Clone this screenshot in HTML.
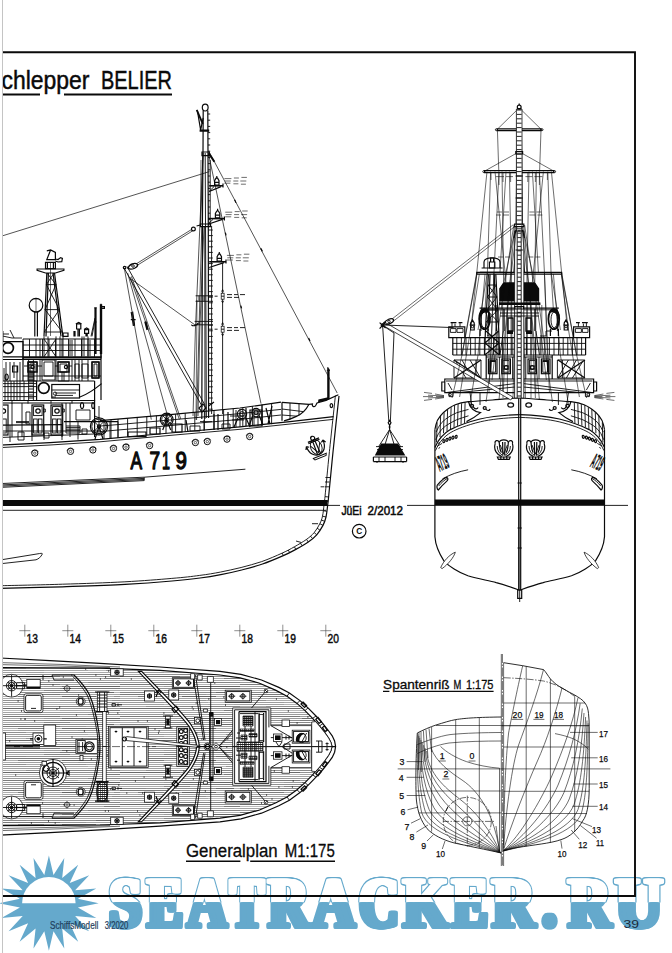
<!DOCTYPE html>
<html lang="de"><head><meta charset="utf-8"><title>Schlepper BELIER - Generalplan</title>
<style>
html,body{margin:0;padding:0;background:#fff;}
body{width:672px;height:953px;overflow:hidden;font-family:"Liberation Sans",sans-serif;}
svg{display:block;}
.t{font-family:"Liberation Sans",sans-serif;fill:#0a0a0a;}
.l{fill:none;stroke:#0a0a0a;stroke-width:.9;}
.m{fill:none;stroke:#0a0a0a;stroke-width:1.2;}
.h{fill:none;stroke:#0a0a0a;stroke-width:.6;}
.k{fill:#0a0a0a;stroke:none;}
#bodyplan .l{stroke-width:.6;}
#bodyplan .m{stroke-width:.85;}
.w{fill:#fff;stroke:#0a0a0a;stroke-width:.75;}
</style></head><body>
<svg width="672" height="953" viewBox="0 0 672 953">
<!-- watermark -->
<defs>
<clipPath id="cTop"><rect x="0" y="860" width="672" height="42.6"/></clipPath>
<clipPath id="cBot"><rect x="0" y="902.6" width="672" height="51"/></clipPath>
</defs>
<g fill="#65a9cc">
<polygon points="98.7,903.2 77.9,907.6 96.3,917.9 75.1,916.1 89.2,931.2 69.7,923.3 78.2,941.7 62.2,928.5 64.3,948.5 53.5,931.3 48.9,950.8 44.3,931.3 33.5,948.5 35.6,928.5 19.6,941.7 28.1,923.3 8.6,931.2 22.7,916.1 1.5,917.9 19.9,907.6 -0.9,903.2 19.9,898.8 1.5,888.5 22.7,890.3 8.6,875.2 28.1,883.1 19.6,864.7 35.6,877.9 33.5,857.9 44.3,875.1 48.9,855.6 53.5,875.1 64.3,857.9 62.2,877.9 78.2,864.7 69.7,883.1 89.2,875.2 75.1,890.3 96.3,888.5 77.9,898.8"/>
<path d="M22.1 903.2 A26.75 26.2 0 0 1 75.6 903.2 Z" fill="#fff"/>
</g>
<defs><g id="wmt">
<text x="109.6" y="926.5" textLength="31.8" lengthAdjust="spacingAndGlyphs">S</text>
<text x="147.6" y="926.5" textLength="34.8" lengthAdjust="spacingAndGlyphs">E</text>
<text x="187.6" y="926.5" textLength="38.8" lengthAdjust="spacingAndGlyphs">A</text>
<text x="230.6" y="926.5" textLength="32.8" lengthAdjust="spacingAndGlyphs">T</text>
<text x="268.6" y="926.5" textLength="39.8" lengthAdjust="spacingAndGlyphs">R</text>
<text x="312.6" y="926.5" textLength="41.8" lengthAdjust="spacingAndGlyphs">A</text>
<text x="359.6" y="926.5" textLength="38.8" lengthAdjust="spacingAndGlyphs">C</text>
<text x="403.6" y="926.5" textLength="43.8" lengthAdjust="spacingAndGlyphs">K</text>
<text x="452.6" y="926.5" textLength="34.8" lengthAdjust="spacingAndGlyphs">E</text>
<text x="492.6" y="926.5" textLength="41.8" lengthAdjust="spacingAndGlyphs">R</text>
<text x="568.6" y="926.5" textLength="41.8" lengthAdjust="spacingAndGlyphs">R</text>
<text x="615.6" y="926.5" textLength="46.8" lengthAdjust="spacingAndGlyphs">U</text>
<text x="542.5" y="926.5" font-size="78" textLength="14" lengthAdjust="spacingAndGlyphs">.</text>
</g></defs>
<g font-family="'Liberation Serif',serif" font-weight="bold" font-size="71.8" stroke-linejoin="round">
<g clip-path="url(#cTop)" fill="#65a9cc" stroke="#65a9cc" stroke-width="5.3"><use href="#wmt" x="-2.2"/><use href="#wmt" x="-1.1"/><use href="#wmt" x="0.0"/><use href="#wmt" x="1.1"/><use href="#wmt" x="2.2"/></g>
<g clip-path="url(#cTop)" fill="#fff" stroke="#fff" stroke-width="2.5"><use href="#wmt" x="-2.2"/><use href="#wmt" x="-1.1"/><use href="#wmt" x="0.0"/><use href="#wmt" x="1.1"/><use href="#wmt" x="2.2"/></g>
<g clip-path="url(#cBot)" fill="#65a9cc" stroke="#65a9cc" stroke-width="4.0"><use href="#wmt" x="-2.2"/><use href="#wmt" x="-1.1"/><use href="#wmt" x="0.0"/><use href="#wmt" x="1.1"/><use href="#wmt" x="2.2"/></g>
</g>

<!-- frame -->
<path d="M2 52.2 H635 V896 H2" fill="none" stroke="#0a0a0a" stroke-width="1.9"/>
<!-- title -->
<text class="t" x="-13.8" y="89" font-size="25" textLength="103.3" lengthAdjust="spacingAndGlyphs" stroke="#0a0a0a" stroke-width=".45">Schlepper</text>
<text class="t" x="101" y="89" font-size="25" textLength="71" lengthAdjust="spacingAndGlyphs" stroke="#0a0a0a" stroke-width=".45">BELIER</text>
<path d="M2.5 94.5 H40 M64 94.5 H172" stroke="#0a0a0a" stroke-width="2" fill="none"/>
<rect x="0" y="60" width="2" height="40" fill="#fff"/>
<!-- footer -->
<text x="50" y="929" font-size="10.3" fill="#1f3d5a" stroke="#1f3d5a" stroke-width=".2" font-family="'Liberation Sans',sans-serif" textLength="48.3" lengthAdjust="spacingAndGlyphs">SchiffsModell</text>
<text x="104.8" y="929" font-size="10.3" fill="#1f3d5a" stroke="#1f3d5a" stroke-width=".2" font-family="'Liberation Sans',sans-serif" textLength="23.5" lengthAdjust="spacingAndGlyphs">3/2020</text>
<text x="623.5" y="928.3" font-size="11" fill="#1a2a3a" font-family="'Liberation Sans',sans-serif" textLength="15.5" lengthAdjust="spacingAndGlyphs">39</text>

<!-- ===== SIDE VIEW: hull ===== -->
<g id="side-hull">
<!-- waterline band -->
<path class="k" d="M0 500 H327.8 L327 506 H0 Z"/>
<line class="l" x1="0" y1="510.3" x2="326" y2="510.3"/>
<path class="l" d="M327 505.4 H340 M407 505.4 H628"/>
<!-- stem outer / inner -->
<path class="m" d="M339.0 396.0 C338.0 405.3 334.7 435.2 333.0 452.0 C331.3 468.8 329.5 488.1 328.6 497.0 C327.7 505.9 328.0 502.3 327.6 505.6 C327.2 508.9 326.8 513.7 326.0 517.0 C325.2 520.3 324.6 522.4 323.0 525.4 C321.4 528.4 319.1 532.0 316.7 534.8 C314.2 537.6 311.8 539.6 308.3 542.0 C304.8 544.4 300.0 547.1 295.8 549.4 C291.6 551.7 288.9 553.2 283.3 555.6 C277.8 558.0 269.4 561.6 262.5 564.0 C255.6 566.4 248.6 568.2 241.7 570.0 C234.8 571.8 227.8 573.3 220.8 574.6 C213.9 575.9 208.1 576.9 200.0 578.0 C191.9 579.1 184.5 579.9 172.0 581.0 C159.5 582.1 143.2 583.4 125.0 584.4 C106.8 585.4 83.3 586.1 62.5 586.8 C41.7 587.4 10.4 588.0 0.0 588.3"/>
<path class="l" d="M335.4 395.6 C334.4 405.0 331.2 434.8 329.4 451.6 C327.7 468.5 325.9 487.7 325.0 496.6 C324.1 505.6 324.5 501.9 324.0 505.1 C323.6 508.4 323.2 513.1 322.5 516.2 C321.8 519.3 321.2 521.0 319.8 523.7 C318.4 526.5 316.4 529.9 314.2 532.6 C311.9 535.2 309.8 537.0 306.5 539.4 C303.2 541.8 298.4 544.5 294.4 546.8 C290.3 549.1 287.7 550.6 282.2 553.1 C276.7 555.6 268.5 559.2 261.7 561.6 C254.8 563.9 248.0 565.7 241.1 567.5 C234.2 569.2 227.2 570.7 220.3 572.1 C213.4 573.4 207.8 574.4 199.7 575.4 C191.6 576.5 184.2 577.4 171.8 578.4 C159.3 579.5 143.1 580.8 124.9 581.8 C106.6 582.8 83.2 583.6 62.4 584.2 C41.6 584.9 10.4 585.5 -0.1 585.7"/>
<!-- stem ticks -->
<path class="l" d="M328.6 497.0 L325.0 496.6 M328.1 501.3 L324.5 500.9 M327.6 505.6 L324.0 505.1 M326.8 511.3 L323.3 510.7 M326.0 517.0 L322.5 516.2 M324.5 521.2 L321.2 520.0 M323.0 525.4 L319.8 523.7 M319.9 530.1 L317.0 528.1 M316.7 534.8 L314.2 532.6 M312.5 538.4 L310.3 536.0 M308.3 542.0 L306.5 539.4 M302.1 545.7 L300.4 543.1 M295.8 549.4 L294.4 546.8 M289.6 552.5 L288.3 550.0 M283.3 555.6 L282.2 553.1  M324.6 486.8 H329.2 M325 482 H329.6 M325.4 477.5 H330 M320.6 486.8 H324 M312 523.7 H318 M296 541 L301 542.4"/>
<!-- rubbing strake with hatching -->
<path class="l" d="M0 483.6 L144.2 477.2 L245.4 469.2 M144.2 477.2 V480.6 L0 487.4 M0 485 L144.2 478.4 M0 486.2 L144.2 479.5"/>
<!-- bilge keel -->
<path class="l" d="M0 560 L38 553.8 C41 553.3 42.8 553 42.2 554.2 C41 556.8 38.6 559 36 559.8 L0 563.8"/>
<!-- deck edge + sheer strake -->
<path class="m" d="M0 445.2 L50 442.6 L100 439.4 L170 433 L240 426.9 L290 421.6 L333.6 416.6"/>
<path class="l" d="M0 447.6 L50 445 L100 441.8 L170 435.4 L240 429.3 L290 424 L333.2 419.4"/>
<!-- bow bulwark -->
<path class="m" d="M282 402.3 L309 404.3 L312.4 404 C311.6 406.6 315 408 316.2 404.6 L317 402.9 L326 400.4 L338.4 394.8"/>
<path class="m" d="M282 402.3 V420.8 M309 404.3 C306 410 301 414.6 296.4 416.4 C292 418.6 288 420 284 420.8"/>
<path class="l" d="M282 409 L303 411.6 M282 415 L297 416.2 M290 403 V419.4 M299 403.6 V415.4"/>
<!-- hawse hole -->
<ellipse class="m" cx="331.4" cy="405.6" rx="1.3" ry="2"/>
<!-- bow fittings -->
<path class="k" d="M318 402.4 L318.4 399.4 L328 397.2 L328.4 399.8 Z"/>
<!-- jack staff -->
<path class="m" d="M327.8 367.4 V399.6 M329 369 V399.2"/>
<path class="l" d="M326.8 370.4 H330 M327.8 367.4 L329 369"/>
</g>

<g id="side-hull2">
<circle cx="34.8" cy="453.2" r="3.1" fill="#fff" stroke="#0a0a0a" stroke-width="1"/><circle cx="34.8" cy="453.2" r="1.2" fill="none" stroke="#0a0a0a" stroke-width=".6"/><path class="h" d="M31.2 452.6 a3.9 3.9 0 0 1 7.2 -.8"/>
<circle cx="70.5" cy="451.4" r="3.1" fill="#fff" stroke="#0a0a0a" stroke-width="1"/><circle cx="70.5" cy="451.4" r="1.2" fill="none" stroke="#0a0a0a" stroke-width=".6"/><path class="h" d="M66.9 450.8 a3.9 3.9 0 0 1 7.2 -.8"/>
<circle cx="92.9" cy="450.0" r="3.1" fill="#fff" stroke="#0a0a0a" stroke-width="1"/><circle cx="92.9" cy="450.0" r="1.2" fill="none" stroke="#0a0a0a" stroke-width=".6"/><path class="h" d="M89.3 449.4 a3.9 3.9 0 0 1 7.2 -.8"/>
<circle cx="113.5" cy="448.5" r="3.1" fill="#fff" stroke="#0a0a0a" stroke-width="1"/><circle cx="113.5" cy="448.5" r="1.2" fill="none" stroke="#0a0a0a" stroke-width=".6"/><path class="h" d="M109.9 447.9 a3.9 3.9 0 0 1 7.2 -.8"/>
<circle cx="126.0" cy="447.2" r="3.1" fill="#fff" stroke="#0a0a0a" stroke-width="1"/><circle cx="126.0" cy="447.2" r="1.2" fill="none" stroke="#0a0a0a" stroke-width=".6"/><path class="h" d="M122.4 446.6 a3.9 3.9 0 0 1 7.2 -.8"/>
<circle cx="149.6" cy="445.6" r="3.1" fill="#fff" stroke="#0a0a0a" stroke-width="1"/><circle cx="149.6" cy="445.6" r="1.2" fill="none" stroke="#0a0a0a" stroke-width=".6"/><path class="h" d="M146.0 445.0 a3.9 3.9 0 0 1 7.2 -.8"/>
<circle cx="195.4" cy="442.6" r="3.1" fill="#fff" stroke="#0a0a0a" stroke-width="1"/><circle cx="195.4" cy="442.6" r="1.2" fill="none" stroke="#0a0a0a" stroke-width=".6"/><path class="h" d="M191.8 442.0 a3.9 3.9 0 0 1 7.2 -.8"/>
<circle cx="207.3" cy="441.6" r="3.1" fill="#fff" stroke="#0a0a0a" stroke-width="1"/><circle cx="207.3" cy="441.6" r="1.2" fill="none" stroke="#0a0a0a" stroke-width=".6"/><path class="h" d="M203.7 441.0 a3.9 3.9 0 0 1 7.2 -.8"/>
<circle cx="227.0" cy="439.2" r="3.1" fill="#fff" stroke="#0a0a0a" stroke-width="1"/><circle cx="227.0" cy="439.2" r="1.2" fill="none" stroke="#0a0a0a" stroke-width=".6"/><path class="h" d="M223.4 438.6 a3.9 3.9 0 0 1 7.2 -.8"/>
<circle cx="249.7" cy="436.6" r="3.1" fill="#fff" stroke="#0a0a0a" stroke-width="1"/><circle cx="249.7" cy="436.6" r="1.2" fill="none" stroke="#0a0a0a" stroke-width=".6"/><path class="h" d="M246.1 436.0 a3.9 3.9 0 0 1 7.2 -.8"/>
<!-- hull number -->
<g class="t" font-size="24.8" lengthAdjust="spacingAndGlyphs" stroke="#0a0a0a" stroke-width="1.3" stroke-linejoin="round">
<text x="130.6" y="469.4" textLength="11.6" lengthAdjust="spacingAndGlyphs">A</text>
<text x="149.6" y="469.4" textLength="10.6" lengthAdjust="spacingAndGlyphs">7</text>
<text x="162" y="469.4" textLength="8" lengthAdjust="spacingAndGlyphs">1</text>
<text x="175.4" y="469.4" textLength="11.4" lengthAdjust="spacingAndGlyphs">9</text>
</g>
<!-- anchor (side) -->
<g transform="translate(316.2 447) rotate(-22)">
<path class="m" d="M-9 -4 C-9 4 -5 8 0 8 C5 8 9 4 9 -4 M-9 -4 L-10.6 -1 M-9 -4 L-6.6 -2.4 M9 -4 L10.6 -1 M9 -4 L6.6 -2.4"/>
<path class="m" d="M-1.6 8 L-1.2 -6 H1.2 L1.6 8 M-6 -6 H6 M-6 -7.4 H6"/>
<circle class="m" cx="0" cy="-9.4" r="2"/>
<path class="l" d="M-5 -3 L0 6 L5 -3 M-7 9.6 H7 L6 11.6 H-6 Z"/>
<ellipse class="l" cx="0" cy="0" rx="5.6" ry="7.6"/>
</g>
</g>

<!-- ===== SIDE VIEW: superstructure ===== -->
<g id="side-super">
<path class="m" d="M46.8 250.9 L50.6 250 L55.4 252.4 L55.4 259.6 H46.8 L50.6 250 M55.4 259 L58 259.6 L60.6 257.6 L62.4 258.4 L61.8 261.6 L58 262 L55.4 261"/>
<path class="m" d="M45.5 262.3 H55.4 V268.6 H45.5 Z M47.4 262.3 V268.6 M53.4 262.3 V268.6"/>
<path class="m" d="M37.1 269 H63.9 V270.4 L55.4 273 H45.5 L37.1 270.4 Z"/>
<path class="m" d="M46.8 273 L44 336.4 M48.4 273 L46 336.4 M54.5 273 L62.9 336.4 M53 273 L61 336.4"/>
<path class="l" d="M46 284.6 H56 M45 309.6 H59.4 M44.2 332 H62.3 M46.4 284.6 L59.4 309.6 M56 284.6 L45 309.6 M45 309.6 L62.3 332 M59.4 309.6 L44.2 332 M47 273 L56 284.6 M54 273 L46.4 284.6"/>
<path class="h" d="M50.5 263 V336"/>
<circle class="m" cx="36.0" cy="305.2" r="6.8"/>
<path class="m" d="M34.8 312 V336.4 M37.4 312 V336.4 M34 312 H38.4 M34.6 298.6 H37.4"/>
<path class="h" d="M36 298 V312"/>
<path class="m" d="M95 307.9 V354 M96 307.9 V354 M100.4 304.3 V354 M101.6 304.3 V354 M100.4 304.3 H101.6 M101.6 306.6 H104.4 V308.4 H101.6 M94.2 307.9 H96.8"/>
<path class="l" d="M95 318 L91 336.4 M94.6 322 L96.6 322 M95.4 318 L92 336.4"/>
<path class="m" d="M76.6 324 H80.8 V329 H76.6 Z M75.8 324 L78.7 322.4 L81.6 324 M78 329 V336.4 M79.4 329 V336.4 M84.6 329.6 H88.6 V333.4 H84.6 Z M84 329.6 L86.6 328 L89.2 329.6 M86 333.4 V336.4 M87.2 333.4 V336.4"/>
<path class="m" d="M74 331 V336.4 M75 331 V336.4 M63 333 H68 V336.4 H63 Z"/>
<path class="m" d="M23 339 H101 M2.5 356.8 H101.6 M23 357.8 H101.6"/>
<path class="l" d="M23 345 H101 M23 350.5 H101"/>
<path class="l" d="M23.0 339 V356.8 M29.5 339 V356.8 M36.0 339 V356.8 M42.5 339 V356.8 M49.0 339 V356.8 M55.5 339 V356.8 M62.0 339 V356.8 M68.5 339 V356.8 M75.0 339 V356.8 M81.5 339 V356.8 M88.0 339 V356.8 M94.5 339 V356.8 M101.0 339 V356.8 "/>
<path class="l" d="M40 339 V356.8 M44 336.4 V356.8 M48 336.4 V356.8 M56 336.4 V356.8 M60 336.4 V356.8 M63 336.4 V356.8 M70 340 V356 M72 340 V356 M82 336.4 V356 M84 336.4 V356 M88 336.4 V356 M90 340 V356"/>
<path class="l" d="M44 339 L56 356.8 M56 339 L44 356.8"/>
<path class="m" d="M2.5 341.6 H23 V359.5 H2.5"/>
<circle cx="8" cy="348" r="5.4" fill="#fff" stroke="#0a0a0a" stroke-width="1.7"/>

<path class="l" d="M2.5 336 L12 338 L22 338 M10 330 L14 338 M3 334 H9 M3 331 V341"/>
<path class="m" d="M23 356.8 V381 M101 353 V400 M2.5 381 H36.6 M23 359.5 H101"/>
<path class="l" d="M28 362 H37 V381 H28 Z M30 364 H35 V372 H30 Z M42 360 H55 V380 H42 Z M58 362 H69 V381 H58 Z M60 364 H67 V372 H60 Z M72 360 V381 M75 360 V381 M79 360 V381 M82 360 V381 M88 360 V381 M92 362 H99 V378 H92 Z M94 364 H97 V376 H94 Z M40 360 V381 M56 360 V381"/>
<circle class="m" cx="32.6" cy="367.0" r="1.6"/>
<circle class="m" cx="66.0" cy="367.0" r="1.6"/>
<path class="l" d="M30 372 V381 M32 372 V381 M34 372 V381 M62 372 V381 M64 372 V381"/>
<path class="m" d="M36.6 381 H94.6 M36.6 381 V400.5 M2.5 400.5 H94.6 V381 M80 397 C88 394 95 389 101.6 383.6"/>
<circle cx="43.75" cy="388" r="5.4" fill="#fff" stroke="#0a0a0a" stroke-width="1.7"/>

<rect class="m" x="51.8" y="384.5" width="27.7" height="13.5"/>
<path class="l" d="M51.8 390 H79.5 M55 393 H76 M55 395.4 H73 M52 397 H56"/>
<circle class="l" cx="55.0" cy="393.6" r="1.6"/>
<path class="l" d="M2.5 386.6 H36.6 M2.5 392.6 H36.6 M8 381 V400.5 M14 381 V400.5 M20 381 V400.5 M28.6 360 V400 M33.4 360 V400"/>
<path class="l" d="M28.6 362 H33.4 M28.6 365 H33.4 M28.6 368 H33.4 M28.6 371 H33.4 M28.6 374 H33.4 M28.6 377 H33.4 M28.6 380 H33.4 M28.6 383 H33.4 M28.6 386 H33.4 M28.6 389 H33.4 M28.6 392 H33.4 M28.6 395 H33.4 M28.6 398 H33.4 "/>
<path class="l" d="M2.5 360 V400 M6 362 V381 M10 362 V381 M14 362 V378 M17 366 V381"/>
<path class="m" d="M6.6 374 a1.6 3 0 1 0 .1 0 M12.6 366 H17.6 V372 H12.6 Z"/>
<path class="m" d="M94.6 400.5 V437 M2.5 403 H94.6"/>
<path class="l" d="M12 401 V403.6 M28 401 V403.6 M51 401 V403.6 M72 401 V403.6"/>
<rect class="m" x="32.0" y="405.0" width="11.7" height="30.0"/>
<rect class="l" x="33.6" y="406.6" width="8.5" height="9.0"/>
<circle class="m" cx="38.0" cy="411.0" r="2.2"/>
<rect class="l" x="33.6" y="419.0" width="3.6" height="14.0"/>
<rect class="l" x="38.4" y="419.0" width="3.6" height="14.0"/>
<path class="l" d="M43.7 409 h1.6 v3 h-1.6 Z"/>
<rect class="m" x="51.0" y="405.0" width="11.7" height="30.0"/>
<rect class="l" x="52.6" y="406.6" width="8.5" height="9.0"/>
<circle class="m" cx="57.0" cy="411.0" r="2.2"/>
<rect class="l" x="52.6" y="419.0" width="3.6" height="14.0"/>
<rect class="l" x="57.4" y="419.0" width="3.6" height="14.0"/>
<path class="l" d="M62.7 409 h1.6 v3 h-1.6 Z"/>
<rect class="m" x="-3.0" y="405.0" width="11.0" height="30.0"/>
<circle class="m" cx="3.4" cy="411.0" r="2.2"/>
<rect class="l" x="2.6" y="419.0" width="3.6" height="14.0"/>
<path class="m" d="M82 402.6 a1.6 3 0 1 0 .1 0 M93 402.6 a1.3 3 0 1 0 .1 0"/>
<path class="l" d="M16 421.6 H29 M16 422.6 H29 M66 426 H80 V433 H66 Z M66 427.6 H80 M66 429.2 H80 M66 430.8 H80"/>
<path class="m" d="M2.5 425.2 L62 424.6 M64 421.6 H118"/>
<path class="l" d="M2.5 431 H100 M10 425 V442 M32 425 V441 M44 425 V440 M62 424.6 V440 M78 421.6 V439.6 M110 421.6 V438.6 M118 421.6 V438 M18 432 H24 V440 H18 Z M44 433 H49 V438 H44 Z M82 429 H87 V434 H82 Z"/>
<circle class="m" cx="99.0" cy="426.4" r="8.6"/>
<circle class="l" cx="99.0" cy="426.4" r="7.2"/>
<circle class="m" cx="99.0" cy="426.4" r="1.6"/>
<path class="l" d="M93.0 420.4 L105.0 432.4 M105.0 420.4 L93.0 432.4 M99.0 417.8 V435.0"/>
<path class="m" d="M99.0 426.4 L95.0 439.0 M99.0 426.4 L103.0 439.0"/>
<circle class="m" cx="166.7" cy="419.6" r="6.4"/>
<circle class="l" cx="166.7" cy="419.6" r="5.0"/>
<circle class="m" cx="166.7" cy="419.6" r="1.6"/>
<path class="l" d="M162.2 415.1 L171.2 424.1 M171.2 415.1 L162.2 424.1 M166.7 413.2 V426.0"/>
<path class="m" d="M166.7 419.6 L162.7 430.0 M166.7 419.6 L170.7 430.0"/>
<path class="l" d="M94.6 416 L99 417.8 M99 406 V418"/>
<path d="M28 362 H37 V372 H28 Z M58 362 H69 V372 H58 Z M92 362 H99 V378 H92 Z" fill="none" stroke="#0a0a0a" stroke-width="1.5"/>
<path class="l" d="M24 366 H28 M37 366 H42 M55 366 H58 M69 366 H72 M75 364 H79 V378 H75 Z M82 364 H88 V378 H82 Z M44 362 H53 V376 H44 Z M23 376 H101 M4 368 V381 M20 362 V381"/>
<path class="l" d="M2.5 396.6 H36.6 M2.5 383.6 H36.6 M11 381 V400.5 M17 381 V400.5 M24 381 V400.5 M5 381 V400.5"/>
<path class="l" d="M62 403 V437 M66 403 V426 M70 403 V437 M76 410 H90 V420 H76 Z M2.5 437.4 L94.6 434 M12 403 V437 M22 403 V437 M26 412 H30 V424 H26 Z"/>
</g>

<!-- ===== SIDE VIEW: mast, derrick, rigging ===== -->
<g id="side-mast">
<ellipse class="m" cx="205.2" cy="107.6" rx="2.9" ry="3.4"/>
<path class="m" d="M203.2 110.6 L203 153 L202.4 226 L201.8 419 M207.8 110.6 L208 153 L208.3 226 L208.6 418"/>
<path class="l" d="M204.8 226 L205 419"/>
<path class="l" d="M205.2 153 L206.4 418"/>
<path d="M196.7 109.9 L202.8 123.8" stroke="#0a0a0a" stroke-width="1.8" fill="none"/>
<path class="m" d="M197.4 110.6 L200.6 130 L203.2 118 M199.6 130 H209.2 M199.6 131.2 H209.2"/>
<path class="l" d="M211.6 226 V414 M210.2 160 V226"/>
<path class="l" d="M208 114.0 H210.2 M208 120.2 H210.2 M208 126.4 H210.2 M208 132.6 H210.2 M208 138.8 H210.2 M208 145.0 H210.2 M208 151.2 H210.2 M208 157.4 H210.2 M208 163.6 H210.2 M208 169.8 H210.2 M208 176.0 H210.2 M208 182.2 H210.2 M208 188.4 H210.2 M208 194.6 H210.2 M208 200.8 H210.2 M208 207.0 H210.2 M208 213.2 H210.2 M208 219.4 H210.2 M208.6 230.0 H212.8 M208.6 235.6 H212.8 M208.6 241.2 H212.8 M208.6 246.8 H212.8 M208.6 252.4 H212.8 M208.6 258.0 H212.8 M208.6 263.6 H212.8 M208.6 269.2 H212.8 M208.6 274.8 H212.8 M208.6 280.4 H212.8 M208.6 286.0 H212.8 M208.6 291.6 H212.8 M208.6 297.2 H212.8 M208.6 302.8 H212.8 M208.6 308.4 H212.8 M208.6 314.0 H212.8 M208.6 319.6 H212.8 M208.6 325.2 H212.8 M208.6 330.8 H212.8 M208.6 336.4 H212.8 M208.6 342.0 H212.8 M208.6 347.6 H212.8 M208.6 353.2 H212.8 M208.6 358.8 H212.8 M208.6 364.4 H212.8 M208.6 370.0 H212.8 M208.6 375.6 H212.8 M208.6 381.2 H212.8 M208.6 386.8 H212.8 M208.6 392.4 H212.8 M208.6 398.0 H212.8 M208.6 403.6 H212.8 M208.6 409.2 H212.8 "/>
<path class="m" d="M202 152 H209.2 V155.6 H202 Z"/>
<path d="M208.8 153.4 L214.4 161.8" stroke="#0a0a0a" stroke-width="2" fill="none"/>
<path class="h" style="stroke-width:.7" d="M203 153 L195.4 330 L193 416 M204 226 L199.8 330 L198 416 M203 153 L200.6 226 M201.8 226 L196.6 420"/>
<path class="h" d="M201 160 L200.4 226 M197 300 L196 420"/>
<path class="m" d="M200.4 224 H210.6 V226.6 H200.4 Z M196.6 226 L200.4 225"/>
<path class="l" d="M195.6 295.8 H213 M195.6 301.3 H213 M194.6 321.4 H213 M194.6 324.8 H213"/>
<path class="l" d="M199 295.8 V301.3 M204 295.8 V301.3 M199 321.4 V324.8"/>
<path class="m" d="M203 404 L206 408 L202 412 L199 408 Z M208.6 406 L214 402"/>
<path class="k" d="M209.2 185.0 H223.0 V186.6 H209.2 Z"/>
<path class="m" d="M209.2 191.5 L221.0 186.6 M223.0 183.6 V187.6"/>
<path class="m" d="M214.6 185.0 v-4.4 l1.4 -2.4 h1.6 l1.4 2.4 v4.4 Z M214.0 182.4 h5.6 M216.8 178.0 v-2"/>
<path class="h" d="M224.4 178.6 h7 m2.5 -.6 h5 m2.5 -.6 h5.5 M224.8 181.0 h6 m2.5 0 h5 m2 0 h6 M224.4 183.2 h6 m3 .6 h5 m2.5 .4 h5"/>
<path class="k" d="M208.0 217.8 H224.4 V219.4 H208.0 Z"/>
<path class="m" d="M208.0 224.3 L222.4 219.4 M224.4 216.4 V220.4"/>
<path class="m" d="M215.4 217.8 v-4.4 l1.4 -2.4 h1.6 l1.4 2.4 v4.4 Z M214.8 215.2 h5.6 M217.6 210.8 v-2"/>
<path class="h" d="M225.2 212.2 h7 m2.5 -.6 h5 m2.5 -.6 h5.5 M225.6 214.6 h6 m2.5 0 h5 m2 0 h6 M225.2 216.8 h6 m3 .6 h5 m2.5 .4 h5"/>
<path class="k" d="M209.2 261.0 H226.0 V262.6 H209.2 Z"/>
<path class="m" d="M209.2 267.5 L224.0 262.6 M226.0 259.6 V263.6"/>
<path class="m" d="M217.1 261.0 v-4.4 l1.4 -2.4 h1.6 l1.4 2.4 v4.4 Z M216.5 258.4 h5.6 M219.3 254.0 v-2"/>
<path class="h" d="M226.9 255.4 h7 m2.5 -.6 h5 m2.5 -.6 h5.5 M227.3 257.8 h6 m2.5 0 h5 m2 0 h6 M226.9 260.0 h6 m3 .6 h5 m2.5 .4 h5"/>
<path class="l" d="M209.2 191.4 L214 186.6 M208 224 L213 219.4"/>
<path class="l" d="M222.6 263 V414"/>
<rect class="w" x="221.2" y="293.2" width="2.9" height="6.0"/>
<path class="l" d="M221.2 296.2 h2.9 M208.6 296.2 h4 m2 0 h3 M227 294.6 h5 m2 0 h4 m2 0 h5 M227 297.4 h5 m2 0 h5 M221.6 291.6 l1 -2 l1 2 M221.6 300.8 l1 2 l1 -2"/>
<rect class="w" x="221.2" y="326.2" width="2.9" height="6.0"/>
<path class="l" d="M221.2 329.2 h2.9 M208.6 329.2 h4 m2 0 h3 M227 327.6 h5 m2 0 h4 m2 0 h5 M227 330.4 h5 m2 0 h5 M221.6 324.6 l1 -2 l1 2 M221.6 333.8 l1 2 l1 -2"/>
<path class="l" d="M123.8 267.6 L202.4 406.8 M127 266.4 L205.2 405.4"/>
<circle class="m" cx="124.6" cy="267.6" r="1.3"/>
<path class="h" style="stroke-width:.7" d="M136 264 L192 229.2 M136.8 265.6 L193 230.6"/>
<path class="m" d="M128 268.4 C129 264 135 262 137.6 264.4 C138.4 267 132 270.6 128 268.4 Z"/>
<circle class="l" cx="133.0" cy="266.0" r="1.3"/>
<circle class="m" cx="193.4" cy="229.0" r="1.9"/>
<path class="h" style="stroke-width:.7" d="M131 279 L194.8 324.8"/>
<path class="m" d="M191.6 324.6 a3.2 1.6 -20 1 0 6.4 -1.6"/>
<path class="h" style="stroke-width:.7" d="M124.4 268.6 L151.3 419.6 M127.6 273 L168 417.4 M130 277 L179.4 419.6 M131.4 276.4 L180.8 419"/>
<path class="m" d="M131.2 312 L133.4 326 M132.6 311.6 L134.6 325.6 M130.8 319.6 H135.6 M144.8 321.6 L147 330 M146 321.4 L148 329.6"/>
<path class="h" style="stroke-width:.7" d="M0 236.6 L209.4 171.6"/>
<path class="h" style="stroke-width:.7" d="M208.4 153.2 L261 403.6 M209 151.6 L337.2 393"/>
<path class="m" d="M234.6 199.8 L236 202.8 M260.8 248.4 L262.4 251.4 M308.6 338 L310 341 M225.4 232.6 L226 235.4 M240.8 305.6 L241.6 308.4"/>
<path class="m" d="M100 420.6 L170 414.6 L240 408 L281 402.2"/>
<path class="l" d="M118 424.6 L170 420 L240 413.6 L281 409.4 M118 430 L170 425.6 L240 419.4 L281 415"/>
<path class="l" d="M118.0 419.0 V437.8 M127.6 418.2 V436.9 M137.2 417.3 V436.0 M146.8 416.5 V435.1 M156.4 415.6 V434.2 M166.0 414.8 V433.4 M175.6 414.1 V432.5 M185.2 413.2 V431.7 M194.8 412.3 V430.8 M204.4 411.4 V430.0 M214.0 410.5 V429.2 M223.6 409.5 V428.3 M233.2 408.6 V427.5 M242.8 407.6 V426.7 M252.4 406.2 V425.8 M262.0 404.9 V425.0 M271.6 403.5 V424.2 "/>
<path class="m" d="M128 432 H146 V436.6 H128 Z M150 428 H160 V434 H150 Z M172 424 H182 V432 H172 Z M186 420 L188 432 M214 414 V430 M218 414 V430 M228 412 V428 M246 408 V426 M250 410 H262 V426 H250 Z M266 408 L270 424 M272 406 L268 424"/>
<path class="l" d="M230 416 H246 M232 420 H244 M252 414 H260 M254 410 V426 M258 410 V426 M236 410 V427 M240 409 V427 M222 424 H230 V429 H222 Z M190 426 H200 V431 H190 Z M204 420 V431 M200 421.6 H212"/>
<circle class="m" cx="242.0" cy="414.0" r="4.6"/>
<circle class="l" cx="242.0" cy="414.0" r="2.4"/>
<circle class="m" cx="256.0" cy="412.6" r="4.2"/>
<circle class="l" cx="256.0" cy="412.6" r="2.0"/>
<path class="m" d="M238 418 L234 427 M246 418 L250 427 M252.6 416 L249 426 M259.4 416 L263 425"/>
<path class="l" d="M262 404.4 V424"/>
<path class="l" d="M100 426 L118 424.6 M100 431.6 L118 430 M104 420.2 V439 M111 419.6 V438.4"/>
</g>

<!-- ===== FRONT VIEW ===== -->
<g id="front" transform="translate(.5 0)">
<g>
<path class="m" d="M434.4 429.5 V536.8 C435 545 437.6 552 443.4 560.8 C448 566 458 572.6 467.4 575.8 C478 579 488 580.4 495.7 582.6 C505 585 512 587.6 519.2 590.2"/>
<path class="m" d="M519.2 398 C508 398.6 500 399.4 492 400 C482 400.8 474 401.4 468 401.7 C462 402.4 458 403.4 454.8 404.7 C451.6 406 449.4 407.4 447.3 409 C444 411.4 441.6 413.6 439.9 415.8 C437.6 418.6 436 421.4 435.4 424.8 L434.4 429.5"/>
<path class="m" d="M519.2 414.6 C504 415 490 416.6 479.5 419 C466 422.4 456 426.4 449.8 429.6 C443 433.6 437.6 440 434.4 447.4"/>
<path class="l" d="M519.2 417.4 C504 417.8 490 419.4 479.8 421.8 C466 425.2 456.4 429 450.4 432.4 C443.6 436.4 438.4 442.6 435 450.6"/>
<path class="l" d="M436.6 422.4 L436.0 442.3 M440.1 415.6 L439.5 437.0 M443.6 412.4 L443.0 433.2 M447.1 409.2 L446.5 431.2 M450.6 407.1 L450.0 429.2 M454.1 405.1 L453.5 427.4 M457.6 404.1 L457.0 425.8 M461.1 403.3 L460.5 424.4 M464.6 402.5 L464.0 423.0"/>
<path class="l" d="M435.6 432.1 L438.0 427.2 L441.0 422.8 L445.0 419.2 L450.0 415.8 L456.0 412.8 L462.0 411.0 L468.0 409.4 M435.2 439.7 L438.0 433.5 L441.0 429.6 L445.0 426.0 L450.0 422.9 L456.0 419.8 L462.0 417.7 L468.0 415.8"/>
<path class="m" d="M468 401.7 C469 408 474 412 480 412.6 C476 416 470 419.6 466 421.6"/>
<ellipse class="m" cx="510.2" cy="405.0" rx="2.9" ry="2.1"/>
<ellipse class="m" cx="471.4" cy="405.8" rx="1.7" ry="1.5"/>
<ellipse class="m" cx="484.2" cy="408.0" rx="1.5" ry="1.3"/>
<path class="m" d="M472.8 406.8 C474 409.4 476.6 409.6 477.6 407.6 M485.4 409 C486.6 411 489 411 489.6 409"/>
<ellipse class="m" cx="443.4" cy="441.2" rx="1.0" ry="1.5" transform="rotate(15 443.4 441.2)"/>
<ellipse class="m" cx="446.4" cy="439.8" rx="1.0" ry="1.5" transform="rotate(15 446.4 439.8)"/>
<ellipse class="m" cx="449.4" cy="438.6" rx="1.0" ry="1.5" transform="rotate(15 449.4 438.6)"/>
<ellipse class="m" cx="452.4" cy="437.6" rx="1.0" ry="1.5" transform="rotate(15 452.4 437.6)"/>
<ellipse class="m" cx="455.6" cy="436.8" rx="1.0" ry="1.5" transform="rotate(15 455.6 436.8)"/>
<path class="l" d="M437 446 L441.6 443.4 M437.4 443.6 l2 -1.2 M438 448.4 l1.6 -1"/>
<path class="l" d="M442 478.8 C450 474.4 458 471.6 467.6 469.8"/>
<path class="m" d="M437 484.8 C440 481.4 444.6 477.4 446.4 477.4 C448 478.4 447.6 480 445.8 481.6 C442.6 484.4 439.6 487.8 437.8 490 C436.4 489 436 486.4 437 484.8 Z"/>
<path class="l" d="M438.2 486 C441 482.6 444 480 446.6 478.6"/>
<path class="w" d="M440.2 567.6 C443 561 449 554.6 454.8 552.2 C453.6 557 447.6 564.4 441.6 568.6 Z"/>
<g transform="translate(503.3 449.0)">
<path class="m" d="M-8.6 -5.4 C-10.6 1 -6.6 6 -2 7.6 M8.6 -5.4 C10.6 1 6.6 6 2 7.6 M-8.6 -5.4 C-9.6 -8.6 -5.6 -9.6 -4.6 -6.6 C-4 -3 -4.6 0 -2.4 3.6 M8.6 -5.4 C9.6 -8.6 5.6 -9.6 4.6 -6.6 C4 -3 4.6 0 2.4 3.6"/>
<path class="m" d="M-4.6 -6.6 C-3.6 -10 3.6 -10 4.6 -6.6 M-1.2 -7 L-.9 6.6 M1.2 -7 L.9 6.6 M-6.4 8 H6.4 L5.4 10.4 H-5.4 Z M-3 8 V10.4 M0 8 V10.4 M3 8 V10.4"/>
<path class="l" d="M-3.6 -4 L0 5 L3.6 -4 M-6.6 -3 C-6.6 2 -4 5 -1 6.4 M6.6 -3 C6.6 2 4 5 1 6.4"/>
</g>
</g>
<g transform="translate(1038.4 0) scale(-1 1)">
<path class="m" d="M434.4 429.5 V536.8 C435 545 437.6 552 443.4 560.8 C448 566 458 572.6 467.4 575.8 C478 579 488 580.4 495.7 582.6 C505 585 512 587.6 519.2 590.2"/>
<path class="m" d="M519.2 398 C508 398.6 500 399.4 492 400 C482 400.8 474 401.4 468 401.7 C462 402.4 458 403.4 454.8 404.7 C451.6 406 449.4 407.4 447.3 409 C444 411.4 441.6 413.6 439.9 415.8 C437.6 418.6 436 421.4 435.4 424.8 L434.4 429.5"/>
<path class="m" d="M519.2 414.6 C504 415 490 416.6 479.5 419 C466 422.4 456 426.4 449.8 429.6 C443 433.6 437.6 440 434.4 447.4"/>
<path class="l" d="M519.2 417.4 C504 417.8 490 419.4 479.8 421.8 C466 425.2 456.4 429 450.4 432.4 C443.6 436.4 438.4 442.6 435 450.6"/>
<path class="l" d="M436.6 422.4 L436.0 442.3 M440.1 415.6 L439.5 437.0 M443.6 412.4 L443.0 433.2 M447.1 409.2 L446.5 431.2 M450.6 407.1 L450.0 429.2 M454.1 405.1 L453.5 427.4 M457.6 404.1 L457.0 425.8 M461.1 403.3 L460.5 424.4 M464.6 402.5 L464.0 423.0"/>
<path class="l" d="M435.6 432.1 L438.0 427.2 L441.0 422.8 L445.0 419.2 L450.0 415.8 L456.0 412.8 L462.0 411.0 L468.0 409.4 M435.2 439.7 L438.0 433.5 L441.0 429.6 L445.0 426.0 L450.0 422.9 L456.0 419.8 L462.0 417.7 L468.0 415.8"/>
<path class="m" d="M468 401.7 C469 408 474 412 480 412.6 C476 416 470 419.6 466 421.6"/>
<ellipse class="m" cx="510.2" cy="405.0" rx="2.9" ry="2.1"/>
<ellipse class="m" cx="471.4" cy="405.8" rx="1.7" ry="1.5"/>
<ellipse class="m" cx="484.2" cy="408.0" rx="1.5" ry="1.3"/>
<path class="m" d="M472.8 406.8 C474 409.4 476.6 409.6 477.6 407.6 M485.4 409 C486.6 411 489 411 489.6 409"/>
<ellipse class="m" cx="443.4" cy="441.2" rx="1.0" ry="1.5" transform="rotate(15 443.4 441.2)"/>
<ellipse class="m" cx="446.4" cy="439.8" rx="1.0" ry="1.5" transform="rotate(15 446.4 439.8)"/>
<ellipse class="m" cx="449.4" cy="438.6" rx="1.0" ry="1.5" transform="rotate(15 449.4 438.6)"/>
<ellipse class="m" cx="452.4" cy="437.6" rx="1.0" ry="1.5" transform="rotate(15 452.4 437.6)"/>
<ellipse class="m" cx="455.6" cy="436.8" rx="1.0" ry="1.5" transform="rotate(15 455.6 436.8)"/>
<path class="l" d="M437 446 L441.6 443.4 M437.4 443.6 l2 -1.2 M438 448.4 l1.6 -1"/>
<path class="l" d="M442 478.8 C450 474.4 458 471.6 467.6 469.8"/>
<path class="m" d="M437 484.8 C440 481.4 444.6 477.4 446.4 477.4 C448 478.4 447.6 480 445.8 481.6 C442.6 484.4 439.6 487.8 437.8 490 C436.4 489 436 486.4 437 484.8 Z"/>
<path class="l" d="M438.2 486 C441 482.6 444 480 446.6 478.6"/>
<path class="w" d="M440.2 567.6 C443 561 449 554.6 454.8 552.2 C453.6 557 447.6 564.4 441.6 568.6 Z"/>
<g transform="translate(503.3 449.0)">
<path class="m" d="M-8.6 -5.4 C-10.6 1 -6.6 6 -2 7.6 M8.6 -5.4 C10.6 1 6.6 6 2 7.6 M-8.6 -5.4 C-9.6 -8.6 -5.6 -9.6 -4.6 -6.6 C-4 -3 -4.6 0 -2.4 3.6 M8.6 -5.4 C9.6 -8.6 5.6 -9.6 4.6 -6.6 C4 -3 4.6 0 2.4 3.6"/>
<path class="m" d="M-4.6 -6.6 C-3.6 -10 3.6 -10 4.6 -6.6 M-1.2 -7 L-.9 6.6 M1.2 -7 L.9 6.6 M-6.4 8 H6.4 L5.4 10.4 H-5.4 Z M-3 8 V10.4 M0 8 V10.4 M3 8 V10.4"/>
<path class="l" d="M-3.6 -4 L0 5 L3.6 -4 M-6.6 -3 C-6.6 2 -4 5 -1 6.4 M6.6 -3 C6.6 2 4 5 1 6.4"/>
</g>
</g>
<path class="k" d="M434.4 499.6 H604 V505 H434.4 Z"/>
<text class="t" font-weight="bold" font-size="21" transform="translate(439.2 471.4) rotate(-24)" textLength="11.5" lengthAdjust="spacingAndGlyphs" stroke="#0a0a0a" stroke-width=".5">A719</text>
<text class="t" font-weight="bold" font-size="21" transform="translate(589 466.4) rotate(24)" textLength="11.5" lengthAdjust="spacingAndGlyphs" stroke="#0a0a0a" stroke-width=".5">A719</text>
<path class="m" d="M518.2 398.3 V590 M520.2 398.3 V590 M517.2 590 H521.2 V598.4 H517.2 Z"/>
<path class="l" d="M517 483 H521.4 M517 528 H521.4 M517 548 H521.4 M519.2 590 V602"/>
<path class="h" d="M519.2 505 V590"/>
</g>

<!-- ===== FRONT VIEW: superstructure, mast, rigging ===== -->
<g id="front-super">
<g>
<path class="m" d="M519.2 379 H444.8 V392.6 H519.2 M444.8 382 H441.8 V391 H444.8"/>
<path class="l" d="M446 381 H519 M448 383 L452 390 M449 392.6 V396.6 H453 V392.6"/>
<circle class="l" cx="450.0" cy="394.6" r="1.3"/>
<path class="l" d="M446 392.6 L519.2 383 M458 392.6 L519.2 386.6 M480 392.6 L480 405 M470 392.6 L472 407"/>
<rect class="m" x="488.4" y="359.0" width="8.6" height="14.7"/>
<rect class="l" x="489.8" y="360.6" width="5.8" height="11.6"/>
<rect class="m" x="501.8" y="359.0" width="8.6" height="14.7"/>
<rect class="l" x="503.2" y="360.6" width="5.8" height="11.6"/>
<circle class="m" cx="506.2" cy="367.4" r="1.9"/>
<path class="k" d="M489.8 360.6 h1.6 v11.6 h-1.6 Z M489.8 360.6 h5.8 v1.4 h-5.8 Z"/>
<path class="l" d="M503.2 366 h5.8 M503.2 369 h5.8"/>
<path class="m" d="M519.2 355 H452.8 M486.2 355 V379 M519.2 357 H486.2"/>
<path class="l" d="M454 360 H481 V378 H454 Z M456 362 L466 378 M462 360 L472 378 M470 360 L480 377 M476 360 V378 M512.6 357 V379 M499.4 357 V379"/>
<path class="m" d="M452.8 337.6 H519.2 M448.8 326.8 H464.8 V337.6 H448.8 Z M452.8 337.6 V355"/>
<path class="l" d="M452.8 343.4 H519 M452.8 349.2 H519"/>
<path class="l" d="M456.8 337.6 V355 M461.4 337.6 V355 M466.0 337.6 V355 M470.6 337.6 V355 M475.2 337.6 V355 M479.8 337.6 V355 M484.4 337.6 V355 M489.0 337.6 V355 M493.6 337.6 V355 M498.2 337.6 V355 M502.8 337.6 V355 M507.4 337.6 V355 M512.0 337.6 V355 M516.6 337.6 V355 "/>
<path class="l" d="M450.4 328.6 H456 V332.4 H450.4 Z M457 328.6 H463 V332.4 H457 Z M452 322.6 V326.8 M455 323.6 V326.8 M460 322.6 V326.8"/>
<path class="m" d="M450.6 322.6 H456.4 M458.6 322.6 H462.4"/>
<path class="m" d="M470.6 323 L472.4 320 L474.2 323 V330 H470.6 Z M469.6 325 H475.2"/>
<circle class="l" cx="472.4" cy="326.6" r="1.2"/>
<ellipse cx="484.6" cy="319" rx="5.4" ry="10.2" fill="none" stroke="#0a0a0a" stroke-width="1.8"/>
<ellipse class="l" cx="484.2" cy="319.8" rx="3.2" ry="8.0"/>
<path class="k" d="M479 316 C479 308 489 308 489.4 314 C488 311 481 311 479.6 320 Z"/>
<path class="m" d="M480 329 V336 M488 329 V336"/>
<path class="m" d="M519.2 308.2 H479.6 M519.2 272.4 H476.8 V274.2 H519.2"/>
<path class="l" d="M519.2 309.8 H481 M481 309.8 V331"/>
<path class="k" d="M519.2 282.3 H503.4 L499.2 288.6 V301.6 H519.2 Z M519.2 302.6 H499 V305 H519.2 Z"/>
<path class="h" d="M487 171.5 L476.8 272.4 L471.6 323 M490.6 171.5 L487.4 272 L485 310 M497.4 129.7 L498.8 171.5 M499 171.5 L494 272 L491 355 M502 171.5 L503.6 282 M506 171.5 L500 272 M509.4 171.5 L511.4 272 L512 355 M495 171.5 L506 282 M513.8 225 L498 330 L492 380 M514.6 225 L506 330 L503 398 M516.6 231 L513 398"/>
<path class="h" d="M476.8 272.4 L466 332 L462 355 M487.4 272 L478 330 M494 272 L489 392 M496.6 305 V355 M502.6 305 V392 M507.4 305 V398 M511 305 V355 M515 305 V398"/>
<path class="m" d="M519.2 128.8 H497.4 V130.6 H519.2 M519.2 170.6 H484.6 V172.6 H519.2"/>
<circle class="l" cx="496.4" cy="129.7" r="1.0"/>
<circle class="l" cx="483.8" cy="171.6" r="1.0"/>
<path class="h" d="M518.4 108.6 L497.4 129.2 M518 152.4 L484.8 171 M491 172.6 V180 M499 172.6 V185 M503 172.6 V182 M510.6 172.6 V182 M496 176.6 h8 M506 176.6 h7 M497 212 h5 m2 0 h5 M496 215 h5 m2 0 h6 M498 257 h5 m2 0 h5"/>
<path class="m" d="M516.4 231 L514 272 M517.2 112 L516.8 153 L516.2 225"/>
</g>
<g transform="translate(1038.4 0) scale(-1 1)">
<path class="m" d="M519.2 379 H444.8 V392.6 H519.2 M444.8 382 H441.8 V391 H444.8"/>
<path class="l" d="M446 381 H519 M448 383 L452 390 M449 392.6 V396.6 H453 V392.6"/>
<circle class="l" cx="450.0" cy="394.6" r="1.3"/>
<path class="l" d="M446 392.6 L519.2 383 M458 392.6 L519.2 386.6 M480 392.6 L480 405 M470 392.6 L472 407"/>
<rect class="m" x="488.4" y="359.0" width="8.6" height="14.7"/>
<rect class="l" x="489.8" y="360.6" width="5.8" height="11.6"/>
<rect class="m" x="501.8" y="359.0" width="8.6" height="14.7"/>
<rect class="l" x="503.2" y="360.6" width="5.8" height="11.6"/>
<circle class="m" cx="506.2" cy="367.4" r="1.9"/>
<path class="k" d="M489.8 360.6 h1.6 v11.6 h-1.6 Z M489.8 360.6 h5.8 v1.4 h-5.8 Z"/>
<path class="l" d="M503.2 366 h5.8 M503.2 369 h5.8"/>
<path class="m" d="M519.2 355 H452.8 M486.2 355 V379 M519.2 357 H486.2"/>
<path class="l" d="M454 360 H481 V378 H454 Z M456 362 L466 378 M462 360 L472 378 M470 360 L480 377 M476 360 V378 M512.6 357 V379 M499.4 357 V379"/>
<path class="m" d="M452.8 337.6 H519.2 M448.8 326.8 H464.8 V337.6 H448.8 Z M452.8 337.6 V355"/>
<path class="l" d="M452.8 343.4 H519 M452.8 349.2 H519"/>
<path class="l" d="M456.8 337.6 V355 M461.4 337.6 V355 M466.0 337.6 V355 M470.6 337.6 V355 M475.2 337.6 V355 M479.8 337.6 V355 M484.4 337.6 V355 M489.0 337.6 V355 M493.6 337.6 V355 M498.2 337.6 V355 M502.8 337.6 V355 M507.4 337.6 V355 M512.0 337.6 V355 M516.6 337.6 V355 "/>
<path class="l" d="M450.4 328.6 H456 V332.4 H450.4 Z M457 328.6 H463 V332.4 H457 Z M452 322.6 V326.8 M455 323.6 V326.8 M460 322.6 V326.8"/>
<path class="m" d="M450.6 322.6 H456.4 M458.6 322.6 H462.4"/>
<path class="m" d="M470.6 323 L472.4 320 L474.2 323 V330 H470.6 Z M469.6 325 H475.2"/>
<circle class="l" cx="472.4" cy="326.6" r="1.2"/>
<ellipse cx="484.6" cy="319" rx="5.4" ry="10.2" fill="none" stroke="#0a0a0a" stroke-width="1.8"/>
<ellipse class="l" cx="484.2" cy="319.8" rx="3.2" ry="8.0"/>
<path class="k" d="M479 316 C479 308 489 308 489.4 314 C488 311 481 311 479.6 320 Z"/>
<path class="m" d="M480 329 V336 M488 329 V336"/>
<path class="m" d="M519.2 308.2 H479.6 M519.2 272.4 H476.8 V274.2 H519.2"/>
<path class="l" d="M519.2 309.8 H481 M481 309.8 V331"/>
<path class="k" d="M519.2 282.3 H503.4 L499.2 288.6 V301.6 H519.2 Z M519.2 302.6 H499 V305 H519.2 Z"/>
<path class="h" d="M487 171.5 L476.8 272.4 L471.6 323 M490.6 171.5 L487.4 272 L485 310 M497.4 129.7 L498.8 171.5 M499 171.5 L494 272 L491 355 M502 171.5 L503.6 282 M506 171.5 L500 272 M509.4 171.5 L511.4 272 L512 355 M495 171.5 L506 282 M513.8 225 L498 330 L492 380 M514.6 225 L506 330 L503 398 M516.6 231 L513 398"/>
<path class="h" d="M476.8 272.4 L466 332 L462 355 M487.4 272 L478 330 M494 272 L489 392 M496.6 305 V355 M502.6 305 V392 M507.4 305 V398 M511 305 V355 M515 305 V398"/>
<path class="m" d="M519.2 128.8 H497.4 V130.6 H519.2 M519.2 170.6 H484.6 V172.6 H519.2"/>
<circle class="l" cx="496.4" cy="129.7" r="1.0"/>
<circle class="l" cx="483.8" cy="171.6" r="1.0"/>
<path class="h" d="M518.4 108.6 L497.4 129.2 M518 152.4 L484.8 171 M491 172.6 V180 M499 172.6 V185 M503 172.6 V182 M510.6 172.6 V182 M496 176.6 h8 M506 176.6 h7 M497 212 h5 m2 0 h5 M496 215 h5 m2 0 h6 M498 257 h5 m2 0 h5"/>
<path class="m" d="M516.4 231 L514 272 M517.2 112 L516.8 153 L516.2 225"/>
</g>
<path class="w" d="M516.4 109 H522 V231 H516.4 Z"/>
<path class="w" d="M514.6 231 H523.8 V398 H514.6 Z"/>
<path class="l" d="M517.2 231 V398 M521.2 231 V398"/>
<path class="l" d="M516.8 110.0 H521.6 M516.8 114.4 H521.6 M516.8 118.8 H521.6 M516.8 123.2 H521.6 M516.8 127.6 H521.6 M516.8 132.0 H521.6 M516.8 136.4 H521.6 M516.8 140.8 H521.6 M516.8 145.2 H521.6 M516.8 149.6 H521.6 M516.8 154.0 H521.6 M516.8 158.4 H521.6 M516.8 162.8 H521.6 M516.8 167.2 H521.6 M516.8 171.6 H521.6 M516.8 176.0 H521.6 M516.8 180.4 H521.6 M516.8 184.8 H521.6 M516.8 189.2 H521.6 M516.8 193.6 H521.6 M516.8 198.0 H521.6 M516.8 202.4 H521.6 M516.8 206.8 H521.6 M516.8 211.2 H521.6 M516.8 215.6 H521.6 M516.8 220.0 H521.6 M516.8 224.4 H521.6 M516.8 228.8 H521.6 M517.4 233.2 H521.0 M517.4 237.6 H521.0 M517.4 242.0 H521.0 M517.4 246.4 H521.0 M517.4 250.8 H521.0 M517.4 255.2 H521.0 M517.4 259.6 H521.0 M517.4 264.0 H521.0 M517.4 268.4 H521.0 M517.4 272.8 H521.0 M517.4 277.2 H521.0 M517.4 281.6 H521.0 M517.4 286.0 H521.0 M517.4 290.4 H521.0 M517.4 294.8 H521.0 M517.4 299.2 H521.0 M517.4 303.6 H521.0 M517.4 308.0 H521.0 M517.4 312.4 H521.0 M517.4 316.8 H521.0 M517.4 321.2 H521.0 M517.4 325.6 H521.0 M517.4 330.0 H521.0 M517.4 334.4 H521.0 M517.4 338.8 H521.0 M517.4 343.2 H521.0 M517.4 347.6 H521.0 M517.4 352.0 H521.0 M517.4 356.4 H521.0 M517.4 360.8 H521.0 M517.4 365.2 H521.0 M517.4 369.6 H521.0 M517.4 374.0 H521.0 M517.4 378.4 H521.0 M517.4 382.8 H521.0 M517.4 387.2 H521.0 M517.4 391.6 H521.0 M517.4 396.0 H521.0 "/>
<path class="m" d="M518 231 H520.4"/>
<circle class="m" cx="519.2" cy="107.0" r="1.9"/>
<path class="m" d="M519.2 103.4 V105 M517.2 108.6 H521.2"/>
<path class="m" d="M515.8 151.6 H522.6 V154 H515.8 Z M514.6 224 H523.8 V226.6 H514.6 Z M516 230 L514 238 M522.4 230 L524.4 238 M515.6 198 H522.8 M515.6 176 H522.8 M515.6 250 H522.8 M514.8 306.6 H523.6 V309 H514.8 Z"/>
<path class="m" d="M484 262 C484 256.4 500 256.4 500 262 M484 262 V268 M500 262 V268 M481.6 268 H502.6 M480 272.4 H504"/>
<path class="m" d="M489.4 262 H494.8 V268 H489.4 Z M490.6 258 H493.6 V262 H490.6 Z"/>
<path class="m" d="M488.4 274.2 L485.4 331 M495.8 274.2 L498.8 331 M490 274.2 L488 331 M494.2 274.2 L496.4 331"/>
<path class="l" d="M488 285 H496.4 M487.4 297 H497 M486.8 310 H497.6 M486.2 322 H498.2 M488 285 L497 297 M496.4 285 L487.4 297 M487.4 297 L497.6 310 M497 297 L486.8 310 M486.8 310 L498.2 322 M497.6 310 L486.2 322"/>
<path class="w" d="M382 324.8 L510.8 400 L512.8 397 L384 321.8 Z"/>
<circle class="m" cx="382.6" cy="325.2" r="1.4"/>
<path class="m" d="M379.6 322.6 l6 5.4 M385.6 322 l-6 6.6"/>
<path class="h" d="M513.4 224.6 L392 319 M514.6 226.6 L393.6 321"/>
<path class="m" d="M384 323.6 C385.4 319.6 391.6 317.4 393.6 319.6 C394 322.4 388 325.6 384 323.6 Z"/>
<circle class="l" cx="389.0" cy="321.4" r="1.2"/>
<path class="l" d="M383 325 L453.6 327.6"/>
<path class="l" d="M382.6 325.4 L388.8 421 M394 333 L390.4 421 M382.6 325.4 L394 333"/>
<path class="m" d="M389.6 420.4 l1.4 2.4 l-1.4 2.4 l-1.4 -2.4 Z M389.6 425.2 V429.6 M388.6 427 h2"/>
<path class="l" d="M389.6 429.6 L378.6 446.6 M389.6 429.6 L400.6 446.6 M389.6 429.6 L384.6 446 M389.6 429.6 L394.6 446"/>
<path class="k" d="M381 443.6 H398 L405.4 455.6 H374.8 Z"/>
<path class="l" d="M376 446.6 h5 M377 449.6 h4 M398 446.6 h5 M399 449.6 h4"/>
<path class="m" d="M373.4 457 H406.6 M373.4 461.6 H406.6 M373.4 457 V461.6 M406.6 457 V461.6"/>
<path class="l" d="M379 457 V461.6 M385 457 V461.6 M395 457 V461.6 M401 457 V461.6 M377 461.6 V463 M403 461.6 V463"/>
<path class="h" d="M444.0 395.6 l-9.0 -1.6 m-3.0 -.6 l-8.0 -1 M444.0 396.6 l-8.0 0 m-3.0 0 l-10.0 0 M444.0 397.6 l-9.0 1.4 m-3.0 .4 l-8.0 1 M444.0 396 l-16.0 -.8 M444.0 397.2 l-16.0 .8"/>
<path class="h" d="M594.4 395.6 l9.0 -1.6 m3.0 -.6 l8.0 -1 M594.4 396.6 l8.0 0 m3.0 0 l10.0 0 M594.4 397.6 l9.0 1.4 m3.0 .4 l8.0 1 M594.4 396 l16.0 -.8 M594.4 397.2 l16.0 .8"/>
<path class="h" d="M479.3 274.3 L471 326.7 L459.6 397 M561.4 274.3 L568 326.7 L579.4 397 M476.9 274.3 L462 355 L452 398 M561.5 274.3 L576.6 355 L586.6 398 M485 274 L478 355 L470 404 M553.4 274 L560.4 355 L568.4 404 M516 226 L500 300 L486 402 M522.4 226 L538.4 300 L552.4 402 M517 226 L508 300 L499 400 M521.4 226 L530.4 300 L539.4 400"/>
<path class="m" d="M485.4 331 L484.6 355 M498.8 331 L499.6 355 M486 331 L499 343 M498.6 331 L485 343 M485 343 L499.4 355 M499.2 343 L484.8 355"/>
<path d="M504 309 V331 M535 309 V331 M508 318 H513 V331 H508 Z M526 318 H531 V331 H526 Z" fill="none" stroke="#0a0a0a" stroke-width="1.4"/>
<path class="l" d="M500 313 H539 M500 316 H539 M503.4 331 L500 355 M536 331 L539.4 355 M540 336 H546 V331 H552 M493 336 H487"/>
<path class="k" d="M499 302.6 H540.4 V305 H499 Z M507 331 h6 v3 h-6 Z M526 331 h6 v3 h-6 Z"/>
<path class="m" d="M454 360 L481 378 M481 360 L454 378 M558 360 L585 378 M585 360 L558 378"/>
</g>

<!-- ===== DECK PLAN ===== -->
<g id="plan">
<defs>
<pattern id="planks" width="120" height="32" patternUnits="userSpaceOnUse"><line x1="0" y1="0.5" x2="44" y2="0.5" stroke="#2a2a2a" stroke-width="0.45"/><line x1="44" y1="0.5" x2="88" y2="0.5" stroke="#555" stroke-width="0.45"/><line x1="88" y1="0.5" x2="114" y2="0.5" stroke="#555" stroke-width="0.50"/><line x1="114" y1="0.5" x2="120" y2="0.5" stroke="#555" stroke-width="0.55"/><line x1="0" y1="2.5" x2="26" y2="2.5" stroke="#2a2a2a" stroke-width="0.40"/><line x1="26" y1="2.5" x2="60" y2="2.5" stroke="#222" stroke-width="0.50"/><line x1="60" y1="2.5" x2="120" y2="2.5" stroke="#222" stroke-width="0.55"/><line x1="0" y1="4.5" x2="60" y2="4.5" stroke="#2a2a2a" stroke-width="0.70"/><line x1="60" y1="4.5" x2="120" y2="4.5" stroke="#333" stroke-width="0.55"/><line x1="0" y1="6.5" x2="60" y2="6.5" stroke="#555" stroke-width="0.40"/><line x1="60" y1="6.5" x2="78" y2="6.5" stroke="#222" stroke-width="0.40"/><line x1="78" y1="6.5" x2="104" y2="6.5" stroke="#555" stroke-width="0.50"/><line x1="104" y1="6.5" x2="120" y2="6.5" stroke="#444" stroke-width="0.70"/><line x1="0" y1="8.5" x2="44" y2="8.5" stroke="#333" stroke-width="0.45"/><line x1="44" y1="8.5" x2="104" y2="8.5" stroke="#444" stroke-width="0.50"/><line x1="104" y1="8.5" x2="120" y2="8.5" stroke="#222" stroke-width="0.40"/><line x1="0" y1="10.5" x2="44" y2="10.5" stroke="#444" stroke-width="0.55"/><line x1="44" y1="10.5" x2="88" y2="10.5" stroke="#222" stroke-width="0.45"/><line x1="88" y1="10.5" x2="120" y2="10.5" stroke="#333" stroke-width="0.60"/><line x1="0" y1="12.5" x2="60" y2="12.5" stroke="#222" stroke-width="0.60"/><line x1="60" y1="12.5" x2="78" y2="12.5" stroke="#222" stroke-width="0.45"/><line x1="78" y1="12.5" x2="120" y2="12.5" stroke="#444" stroke-width="0.40"/><line x1="0" y1="14.5" x2="44" y2="14.5" stroke="#222" stroke-width="0.40"/><line x1="44" y1="14.5" x2="62" y2="14.5" stroke="#333" stroke-width="0.50"/><line x1="62" y1="14.5" x2="80" y2="14.5" stroke="#2a2a2a" stroke-width="0.70"/><line x1="80" y1="14.5" x2="120" y2="14.5" stroke="#222" stroke-width="0.70"/><line x1="0" y1="16.5" x2="60" y2="16.5" stroke="#333" stroke-width="0.55"/><line x1="60" y1="16.5" x2="94" y2="16.5" stroke="#222" stroke-width="0.60"/><line x1="94" y1="16.5" x2="120" y2="16.5" stroke="#222" stroke-width="0.60"/><line x1="0" y1="18.5" x2="44" y2="18.5" stroke="#333" stroke-width="0.40"/><line x1="44" y1="18.5" x2="70" y2="18.5" stroke="#222" stroke-width="0.55"/><line x1="70" y1="18.5" x2="88" y2="18.5" stroke="#2a2a2a" stroke-width="0.40"/><line x1="88" y1="18.5" x2="120" y2="18.5" stroke="#555" stroke-width="0.50"/><line x1="0" y1="20.5" x2="26" y2="20.5" stroke="#555" stroke-width="0.70"/><line x1="26" y1="20.5" x2="52" y2="20.5" stroke="#333" stroke-width="0.55"/><line x1="52" y1="20.5" x2="96" y2="20.5" stroke="#2a2a2a" stroke-width="0.55"/><line x1="96" y1="20.5" x2="114" y2="20.5" stroke="#2a2a2a" stroke-width="0.70"/><line x1="114" y1="20.5" x2="120" y2="20.5" stroke="#444" stroke-width="0.40"/><line x1="0" y1="22.5" x2="60" y2="22.5" stroke="#222" stroke-width="0.60"/><line x1="60" y1="22.5" x2="86" y2="22.5" stroke="#2a2a2a" stroke-width="0.50"/><line x1="86" y1="22.5" x2="120" y2="22.5" stroke="#555" stroke-width="0.55"/><line x1="0" y1="24.5" x2="18" y2="24.5" stroke="#333" stroke-width="0.40"/><line x1="18" y1="24.5" x2="44" y2="24.5" stroke="#444" stroke-width="0.70"/><line x1="44" y1="24.5" x2="62" y2="24.5" stroke="#444" stroke-width="0.45"/><line x1="62" y1="24.5" x2="96" y2="24.5" stroke="#222" stroke-width="0.70"/><line x1="96" y1="24.5" x2="114" y2="24.5" stroke="#333" stroke-width="0.40"/><line x1="114" y1="24.5" x2="120" y2="24.5" stroke="#333" stroke-width="0.55"/><line x1="0" y1="26.5" x2="18" y2="26.5" stroke="#444" stroke-width="0.45"/><line x1="18" y1="26.5" x2="52" y2="26.5" stroke="#2a2a2a" stroke-width="0.45"/><line x1="52" y1="26.5" x2="78" y2="26.5" stroke="#2a2a2a" stroke-width="0.45"/><line x1="78" y1="26.5" x2="120" y2="26.5" stroke="#2a2a2a" stroke-width="0.50"/><line x1="0" y1="28.5" x2="26" y2="28.5" stroke="#333" stroke-width="0.55"/><line x1="26" y1="28.5" x2="60" y2="28.5" stroke="#555" stroke-width="0.50"/><line x1="60" y1="28.5" x2="86" y2="28.5" stroke="#333" stroke-width="0.55"/><line x1="86" y1="28.5" x2="112" y2="28.5" stroke="#555" stroke-width="0.55"/><line x1="112" y1="28.5" x2="120" y2="28.5" stroke="#2a2a2a" stroke-width="0.55"/><line x1="0" y1="30.5" x2="44" y2="30.5" stroke="#222" stroke-width="0.45"/><line x1="44" y1="30.5" x2="88" y2="30.5" stroke="#222" stroke-width="0.40"/><line x1="88" y1="30.5" x2="106" y2="30.5" stroke="#555" stroke-width="0.40"/><line x1="106" y1="30.5" x2="120" y2="30.5" stroke="#2a2a2a" stroke-width="0.50"/></pattern>
<pattern id="mach" width="2" height="2" patternUnits="userSpaceOnUse"><rect width="2" height="2" fill="#fff"/><line x1="0" y1=".5" x2="2" y2=".5" stroke="#111" stroke-width=".9"/><line x1=".5" y1="0" x2=".5" y2="2" stroke="#111" stroke-width=".5"/></pattern>
<clipPath id="deckclip"><path d="M0 667.6 L50 667.8 L100 668.2 L160 670.4 L220 675 L240 677.8 L259.6 683.2 L276 690.4 L287 696.2 L297 703.4 L305 710.6 L312.6 718.4 L319.4 726 L324.6 732.4 L328.6 738 L331 742.6 L332 746.6 L332.0 746.6 L331.0 750.6 L328.6 755.2 L324.6 760.8 L319.4 767.2 L312.6 774.8 L305.0 782.6 L297.0 789.8 L287.0 797.0 L276.0 802.8 L259.6 810.0 L240.0 815.4 L220.0 818.2 L160.0 822.8 L100.0 825.0 L50.0 825.4 L0.0 825.6 Z"/></clipPath>
</defs>
<rect x="0" y="660" width="336" height="176" fill="url(#planks)" clip-path="url(#deckclip)"/>
<path class="h" d="M78.6 694.0 v2 M231.9 790.0 v2 M53.0 684.0 v2 M10.3 808.0 v2 M294.1 682.0 v2 M74.1 804.0 v2 M117.8 712.0 v2 M265.3 734.0 v2 M71.8 674.0 v2 M265.9 734.0 v2 M256.9 716.0 v2 M56.1 742.0 v2 M202.1 762.0 v2 M31.4 822.0 v2 M110.6 766.0 v2 M163.9 712.0 v2 M82.2 738.0 v2 M32.2 808.0 v2 M269.6 668.0 v2 M291.2 814.0 v2 M226.8 746.0 v2 M272.0 798.0 v2 M65.7 776.0 v2 M193.3 778.0 v2 M146.6 726.0 v2 M100.4 678.0 v2 M29.6 786.0 v2 M201.9 738.0 v2 M168.0 788.0 v2 M225.5 704.0 v2 M319.1 718.0 v2 M25.0 718.0 v2 M204.7 780.0 v2 M91.3 758.0 v2 M141.8 818.0 v2 M105.3 810.0 v2 M66.8 750.0 v2 M35.9 682.0 v2 M227.8 738.0 v2 M245.8 824.0 v2 M276.4 698.0 v2 M108.6 712.0 v2 M95.9 674.0 v2 M17.5 688.0 v2 M287.1 740.0 v2 M236.2 750.0 v2 M9.7 740.0 v2 M105.6 706.0 v2 M249.0 772.0 v2 M276.2 686.0 v2 M96.7 716.0 v2 M286.5 742.0 v2 M47.1 764.0 v2 M193.2 708.0 v2 M108.7 670.0 v2 M118.8 784.0 v2 M57.6 760.0 v2 M319.1 814.0 v2 M34.7 720.0 v2 M138.0 720.0 v2 M39.9 682.0 v2 M21.5 710.0 v2 M192.2 706.0 v2 M195.7 806.0 v2 M159.1 730.0 v2 M105.6 676.0 v2 M42.6 802.0 v2 M96.6 772.0 v2 M209.9 718.0 v2 M155.0 728.0 v2 M142.7 792.0 v2 M15.7 774.0 v2 M144.1 776.0 v2 M266.6 794.0 v2 M63.3 676.0 v2 M84.4 730.0 v2 M170.1 726.0 v2 M135.8 734.0 v2 M48.8 680.0 v2 M285.6 748.0 v2 M182.6 812.0 v2 M131.3 678.0 v2 M160.2 690.0 v2 M139.9 814.0 v2 M288.3 710.0 v2 M110.4 788.0 v2 M256.6 748.0 v2 M261.5 802.0 v2 M72.0 736.0 v2 M111.0 768.0 v2 M306.2 686.0 v2 M275.3 738.0 v2 M307.9 716.0 v2 M18.1 700.0 v2 M246.3 736.0 v2 M214.8 682.0 v2 M278.9 786.0 v2 M183.9 770.0 v2 M297.1 722.0 v2 M256.2 722.0 v2 M295.5 670.0 v2 M196.8 732.0 v2 M40.6 764.0 v2 M281.4 808.0 v2 M20.9 718.0 v2 M55.2 822.0 v2 M108.5 810.0 v2 M248.4 788.0 v2 M293.2 780.0 v2 M12.3 676.0 v2 M223.8 696.0 v2 M158.5 732.0 v2 M196.2 702.0 v2 M17.1 688.0 v2 M246.6 800.0 v2 M290.0 744.0 v2 M268.7 686.0 v2 M30.9 806.0 v2 M147.4 720.0 v2 M252.8 746.0 v2 M126.8 792.0 v2 M274.3 770.0 v2 M34.1 696.0 v2 M293.4 760.0 v2 M165.9 778.0 v2 M135.4 780.0 v2 M25.1 718.0 v2 M205.3 790.0 v2 M137.5 810.0 v2 M56.9 708.0 v2 M59.7 706.0 v2 M107.2 754.0 v2 M85.7 668.0 v2 M228.5 668.0 v2 M208.8 698.0 v2 M176.2 792.0 v2 M252.4 820.0 v2 M157.0 686.0 v2 M168.5 772.0 v2 M271.8 758.0 v2 M76.4 714.0 v2 M315.5 668.0 v2 M217.8 824.0 v2 M290.8 806.0 v2 M292.4 786.0 v2 M251.3 812.0 v2 M100.6 796.0 v2 M252.6 824.0 v2 M199.1 768.0 v2 M48.5 820.0 v2 " clip-path="url(#deckclip)"/>
<path class="m" d="M0 658 L50 660.6 L100 663.4 L160 667 L220 671.4 L241 674.4 L261.5 680 L278.8 687.4 L289.4 693 L300 700.6 L308 707.9 L316 716 L322.9 723.7 L328 730 L332.2 735.8 L334.6 741 L335.6 746.6 L335.6 746.6 L334.6 752.2 L332.2 757.4 L328.0 763.2 L322.9 769.5 L316.0 777.2 L308.0 785.3 L300.0 792.6 L289.4 800.2 L278.8 805.8 L261.5 813.2 L241.0 818.8 L220.0 821.8 L160.0 826.2 L100.0 829.8 L50.0 832.6 L0.0 835.2"/>
<path class="m" d="M0 667.6 L50 667.8 L100 668.2 L160 670.4 L220 675 L240 677.8 L259.6 683.2 L276 690.4 L287 696.2 L297 703.4 L305 710.6 L312.6 718.4 L319.4 726 L324.6 732.4 L328.6 738 L331 742.6 L332 746.6 L332.0 746.6 L331.0 750.6 L328.6 755.2 L324.6 760.8 L319.4 767.2 L312.6 774.8 L305.0 782.6 L297.0 789.8 L287.0 797.0 L276.0 802.8 L259.6 810.0 L240.0 815.4 L220.0 818.2 L160.0 822.8 L100.0 825.0 L50.0 825.4 L0.0 825.6"/>
<g>
<path class="h" d="M0 662.6 L60 664.4 L120 667 M0 664.6 L60 666 L110 667.6"/>
<path class="l" d="M300 700.6 L297 703.4 M308 707.9 L305 710.6 M316 716 L312.6 718.4 M322.9 723.7 L319.4 726 M328 730 L324.6 732.4 M289.4 693 L287 696.2"/>
<path class="m" d="M303 702 L306.6 705.4 L304.6 707.4 L301 704 Z M318 717.4 L321.4 721.6 L319 723.4 L315.8 719.4 Z M324.4 726 L327 730 L325 731.4 L322.4 727.6 Z"/>
<path class="m" d="M52 675 H74 C82 683 87 690 89.3 694.6 C94 705 97.3 721.4 99 733 C99.6 738 100 742 100 746.6"/>
<path class="l" d="M73 676.6 C80 684 85 691 87.6 696 C92 706 95.4 722 97.2 733 C97.8 738 98.2 742 98.2 746.6"/>
<circle class="w" cx="11.6" cy="685.7" r="11.4"/>
<circle class="l" cx="11.6" cy="685.7" r="5.2"/>
<circle class="l" cx="11.6" cy="685.7" r="3.4"/>
<circle class="k" cx="11.6" cy="685.7" r="1.5"/>
<path class="l" d="M0.6 685.7 h22 M11.6 674.7 v22 M16.6 682.7 h8 v6 h-8 Z M8.0 682.1 l7 7 M15.2 682.1 l-7 7"/>
<path class="m" d="M16.6 685.7 h11"/>
<rect class="w" x="26.8" y="679.5" width="13.4" height="8.9"/>
<path class="k" d="M26.8 686.6 h13.4 v1.8 h-13.4 Z"/>
<rect class="w" x="24.0" y="693.8" width="18.9" height="18.8" rx="2.0"/>
<rect class="l" x="25.6" y="695.4" width="15.7" height="15.5" rx="1.6"/>
<path class="l" d="M31 708.4 h5"/>
<path class="l" d="M2.5 676.6 H52 M43 675 V680 M52 675 L54 680 H74"/>
<circle class="w" cx="67.0" cy="688.4" r="2.6"/>
<path class="h" d="M63 688.4 h8 M67 684.6 v7.6"/>
<circle class="w" cx="80.7" cy="701.4" r="4.4"/>
<circle class="l" cx="80.7" cy="701.4" r="3.0"/>
<rect class="l" x="78.6" y="698.6" width="4.2" height="5.6"/>
<rect class="w" x="97.3" y="692.0" width="9.7" height="19.6"/>
<path class="l" d="M97.3 695 h9.7 M97.3 698 h9.7 M97.3 701 h9.7 M97.3 704 h9.7 M97.3 707 h9.7 M99.6 692 v19.6 M104.6 692 v19.6"/>
<path class="m" d="M95 692 H109.4 M95.6 711.6 H108.6"/>
<rect class="w" x="102.7" y="711.6" width="3.5" height="35.0"/>
<rect class="w" x="110.7" y="668.8" width="12.5" height="7.2"/>
<circle class="l" cx="117.0" cy="672.4" r="2.2"/>
<path class="l" d="M115.0 670.4 l4 4 m0 -4 l-4 4 M114.5 672.4 h5 M117.0 669.9 v5"/>
<rect class="w" x="144.6" y="691.0" width="9.9" height="10.0"/>
<circle class="l" cx="149.5" cy="696.0" r="2.2"/>
<path class="l" d="M147.5 694.0 l4 4 m0 -4 l-4 4 M147.0 696.0 h5 M149.5 693.5 v5"/>
<rect class="w" x="168.8" y="690.0" width="9.9" height="10.0"/>
<circle class="l" cx="173.7" cy="695.0" r="2.2"/>
<path class="l" d="M171.7 693.0 l4 4 m0 -4 l-4 4 M171.2 695.0 h5 M173.7 692.5 v5"/>
<rect class="w" x="172.3" y="677.7" width="22.3" height="10.7"/>
<rect class="l" x="173.4" y="678.8" width="20.1" height="8.5"/>
<circle class="l" cx="178.0" cy="683.0" r="2.0"/>
<path class="l" d="M175.0 683 h6 M178.0 680 v6"/>
<circle class="l" cx="188.6" cy="683.0" r="2.0"/>
<path class="l" d="M185.6 683 h6 M188.6 680 v6"/>
<path class="l" d="M112 703.6 h3.4 v2.4 h-3.4 Z M116.4 704.8 h5.6 M118 703.6 v2.4"/>
<path fill="#fff" stroke="#0a0a0a" stroke-width="1.15" d="M138.4 671.4 L141.6 671.4 L173.6 704.4 C182 713.6 188 720 191.2 725 C196.4 733 199 740 199.3 746.6 L196.6 746.6 C196.2 740 193.6 733.4 189 726.4 C185.6 721.6 179.6 715 171.4 706.4 Z"/>
<path class="m" d="M155.4 692.8 L158.6 690 L161.4 693 M158.6 690 L156 697 M172 709.4 L176 706 L178.6 709 L174.6 712.6 Z"/>
<rect class="w" x="165.6" y="716.0" width="4.6" height="12.0"/>
<path class="l" d="M165.6 719 h4.6 M165.6 722 h4.6 M165.6 725 h4.6 M163 716 H173 M163.6 728 H172.4"/>
<path class="k" d="M166.4 719 h3 v6 h-3 Z"/>
<rect class="w" x="176.8" y="726.8" width="12.5" height="19.8"/>
<rect class="l" x="178.4" y="728.4" width="9.3" height="18.2"/>
<circle class="m" cx="181.2" cy="731.6" r="1.9"/>
<circle class="m" cx="185.6" cy="730.6" r="1.9"/>
<circle class="m" cx="181.2" cy="737.6" r="1.9"/>
<circle class="m" cx="185.6" cy="736.6" r="1.9"/>
<circle class="m" cx="181.2" cy="743.4" r="1.9"/>
<circle class="m" cx="185.6" cy="742.4" r="1.9"/>
<rect class="w" x="194.6" y="717.6" width="6.2" height="6.2"/>
<circle class="l" cx="197.7" cy="720.7" r="1.9"/>
<path class="w" d="M203.4 709 h4 v3 h-4 Z"/>
<path class="l" d="M192.9 675 L203.6 740 M195.6 675 L205 740 M210.7 676 V746.6 M209.6 712.4 V746.6 M213 712.4 V746.6"/>
<path class="w" d="M190.6 673.6 h4 v5.4 h-4 Z M197.6 675 h4.6 v5 h-4.6 Z M207.4 676.4 h6 v6 h-6 Z"/>
<path class="k" d="M209.4 712 h3.8 v4.6 h-3.8 Z"/>
<rect class="w" x="214.6" y="718.6" width="7.0" height="7.0"/>
<path class="k" d="M216 720 h4.2 v4.2 h-4.2 Z"/>
<path class="l" d="M218.7 746.6 L266 691 M218.7 746.6 L232.7 733"/>
<rect class="w" x="225.2" y="690.2" width="26.1" height="12.1"/>
<rect class="l" x="226.6" y="691.6" width="23.3" height="9.3"/>
<circle class="l" cx="231.7" cy="696.2" r="2.2"/>
<path class="l" d="M228.2 696.2 h7 M231.7 693 v6.4"/>
<circle class="l" cx="242.9" cy="696.2" r="2.2"/>
<path class="l" d="M239.4 696.2 h7 M242.9 693 v6.4"/>
<circle class="w" cx="266.0" cy="691.0" r="1.8"/>
<path class="l" d="M264.6 689.6 l2.8 2.8"/>
<path class="w" d="M232.7 707.9 H270.8 V725.6 H311.7 V746.6 H232.7 Z"/>
<path class="l" d="M234.6 709.8 H268.9 V727.4 M234.6 709.8 V746.6"/>
<path class="m" d="M239 711.6 H266 V746.6 M239 711.6 V746.6 M259 713 V746.6 M263.6 713 V742"/>
<path fill="url(#mach)" stroke="#0a0a0a" stroke-width=".7" d="M243 716 h10 v10 h-10 Z M240 729 h14 v2.4 h-14 Z M241 735 h6 v5 h-6 Z M249 733.6 h8 v3.4 h-8 Z M237 742 h26 v4.6 h-26 Z"/>
<path class="l" d="M243 718 h10 M243 720 h10 M243 722 h10 M243 724 h10 M240 713.6 H258 M245 726 V746 M251 726 V746 M255 712 V746 M237 733 h3 M236 738 h5"/>
<rect class="w" x="259.6" y="714.6" width="3.6" height="26.0"/>
<rect class="w" x="292.2" y="730.2" width="17.7" height="13.0"/>
<rect class="l" x="293.6" y="731.4" width="14.9" height="10.6"/>
<path class="k" d="M296 741.6 C295 735 300 731.6 305 733.4 C301 734.4 299 738 299.6 741.6 Z"/>
<circle class="l" cx="301.6" cy="738.0" r="4.6"/>
<path class="l" d="M306.6 733 L302 741.6 M296.6 741.6 H308"/>
<rect class="w" x="273.6" y="734.0" width="8.4" height="7.4"/>
<path class="k" d="M275 735.4 h5.6 v4.6 h-5.6 Z"/>
<path class="l" d="M270.8 737.6 h2.8 M282 737.6 h10.2 M286 735.6 v4 M289 735.6 v4"/>
<rect class="w" x="282.0" y="720.0" width="7.4" height="6.5"/>
<path class="l" d="M270.8 725.6 L292.2 738 M282 746.6 L292.2 740"/>
<path class="w" d="M311.7 722 L315.6 721.6 L319.4 726 L324.6 732.4 L328.6 738 L331 742.6 L332 746.6 H311.7 Z"/>
<path class="l" d="M316 741 h6 v5.6 M318.6 741 v5.6 M325.6 743.6 h3 M327 742.4 v4.2"/>
</g>
<g transform="translate(0 1493.2) scale(1 -1)">
<path class="h" d="M0 662.6 L60 664.4 L120 667 M0 664.6 L60 666 L110 667.6"/>
<path class="l" d="M300 700.6 L297 703.4 M308 707.9 L305 710.6 M316 716 L312.6 718.4 M322.9 723.7 L319.4 726 M328 730 L324.6 732.4 M289.4 693 L287 696.2"/>
<path class="m" d="M303 702 L306.6 705.4 L304.6 707.4 L301 704 Z M318 717.4 L321.4 721.6 L319 723.4 L315.8 719.4 Z M324.4 726 L327 730 L325 731.4 L322.4 727.6 Z"/>
<path class="m" d="M52 675 H74 C82 683 87 690 89.3 694.6 C94 705 97.3 721.4 99 733 C99.6 738 100 742 100 746.6"/>
<path class="l" d="M73 676.6 C80 684 85 691 87.6 696 C92 706 95.4 722 97.2 733 C97.8 738 98.2 742 98.2 746.6"/>
<circle class="w" cx="11.6" cy="685.7" r="11.4"/>
<circle class="l" cx="11.6" cy="685.7" r="5.2"/>
<circle class="l" cx="11.6" cy="685.7" r="3.4"/>
<circle class="k" cx="11.6" cy="685.7" r="1.5"/>
<path class="l" d="M0.6 685.7 h22 M11.6 674.7 v22 M16.6 682.7 h8 v6 h-8 Z M8.0 682.1 l7 7 M15.2 682.1 l-7 7"/>
<path class="m" d="M16.6 685.7 h11"/>
<rect class="w" x="26.8" y="679.5" width="13.4" height="8.9"/>
<path class="k" d="M26.8 686.6 h13.4 v1.8 h-13.4 Z"/>
<rect class="w" x="24.0" y="693.8" width="18.9" height="18.8" rx="2.0"/>
<rect class="l" x="25.6" y="695.4" width="15.7" height="15.5" rx="1.6"/>
<path class="l" d="M31 708.4 h5"/>
<path class="l" d="M2.5 676.6 H52 M43 675 V680 M52 675 L54 680 H74"/>
<circle class="w" cx="67.0" cy="688.4" r="2.6"/>
<path class="h" d="M63 688.4 h8 M67 684.6 v7.6"/>
<circle class="w" cx="80.7" cy="701.4" r="4.4"/>
<circle class="l" cx="80.7" cy="701.4" r="3.0"/>
<rect class="l" x="78.6" y="698.6" width="4.2" height="5.6"/>
<rect class="w" x="97.3" y="692.0" width="9.7" height="19.6"/>
<path class="l" d="M97.3 695 h9.7 M97.3 698 h9.7 M97.3 701 h9.7 M97.3 704 h9.7 M97.3 707 h9.7 M99.6 692 v19.6 M104.6 692 v19.6"/>
<path class="m" d="M95 692 H109.4 M95.6 711.6 H108.6"/>
<rect class="w" x="102.7" y="711.6" width="3.5" height="35.0"/>
<rect class="w" x="110.7" y="668.8" width="12.5" height="7.2"/>
<circle class="l" cx="117.0" cy="672.4" r="2.2"/>
<path class="l" d="M115.0 670.4 l4 4 m0 -4 l-4 4 M114.5 672.4 h5 M117.0 669.9 v5"/>
<rect class="w" x="144.6" y="691.0" width="9.9" height="10.0"/>
<circle class="l" cx="149.5" cy="696.0" r="2.2"/>
<path class="l" d="M147.5 694.0 l4 4 m0 -4 l-4 4 M147.0 696.0 h5 M149.5 693.5 v5"/>
<rect class="w" x="168.8" y="690.0" width="9.9" height="10.0"/>
<circle class="l" cx="173.7" cy="695.0" r="2.2"/>
<path class="l" d="M171.7 693.0 l4 4 m0 -4 l-4 4 M171.2 695.0 h5 M173.7 692.5 v5"/>
<rect class="w" x="172.3" y="677.7" width="22.3" height="10.7"/>
<rect class="l" x="173.4" y="678.8" width="20.1" height="8.5"/>
<circle class="l" cx="178.0" cy="683.0" r="2.0"/>
<path class="l" d="M175.0 683 h6 M178.0 680 v6"/>
<circle class="l" cx="188.6" cy="683.0" r="2.0"/>
<path class="l" d="M185.6 683 h6 M188.6 680 v6"/>
<path class="l" d="M112 703.6 h3.4 v2.4 h-3.4 Z M116.4 704.8 h5.6 M118 703.6 v2.4"/>
<path fill="#fff" stroke="#0a0a0a" stroke-width="1.15" d="M138.4 671.4 L141.6 671.4 L173.6 704.4 C182 713.6 188 720 191.2 725 C196.4 733 199 740 199.3 746.6 L196.6 746.6 C196.2 740 193.6 733.4 189 726.4 C185.6 721.6 179.6 715 171.4 706.4 Z"/>
<path class="m" d="M155.4 692.8 L158.6 690 L161.4 693 M158.6 690 L156 697 M172 709.4 L176 706 L178.6 709 L174.6 712.6 Z"/>
<rect class="w" x="165.6" y="716.0" width="4.6" height="12.0"/>
<path class="l" d="M165.6 719 h4.6 M165.6 722 h4.6 M165.6 725 h4.6 M163 716 H173 M163.6 728 H172.4"/>
<path class="k" d="M166.4 719 h3 v6 h-3 Z"/>
<rect class="w" x="176.8" y="726.8" width="12.5" height="19.8"/>
<rect class="l" x="178.4" y="728.4" width="9.3" height="18.2"/>
<circle class="m" cx="181.2" cy="731.6" r="1.9"/>
<circle class="m" cx="185.6" cy="730.6" r="1.9"/>
<circle class="m" cx="181.2" cy="737.6" r="1.9"/>
<circle class="m" cx="185.6" cy="736.6" r="1.9"/>
<circle class="m" cx="181.2" cy="743.4" r="1.9"/>
<circle class="m" cx="185.6" cy="742.4" r="1.9"/>
<rect class="w" x="194.6" y="717.6" width="6.2" height="6.2"/>
<circle class="l" cx="197.7" cy="720.7" r="1.9"/>
<path class="w" d="M203.4 709 h4 v3 h-4 Z"/>
<path class="l" d="M192.9 675 L203.6 740 M195.6 675 L205 740 M210.7 676 V746.6 M209.6 712.4 V746.6 M213 712.4 V746.6"/>
<path class="w" d="M190.6 673.6 h4 v5.4 h-4 Z M197.6 675 h4.6 v5 h-4.6 Z M207.4 676.4 h6 v6 h-6 Z"/>
<path class="k" d="M209.4 712 h3.8 v4.6 h-3.8 Z"/>
<rect class="w" x="214.6" y="718.6" width="7.0" height="7.0"/>
<path class="k" d="M216 720 h4.2 v4.2 h-4.2 Z"/>
<path class="l" d="M218.7 746.6 L266 691 M218.7 746.6 L232.7 733"/>
<rect class="w" x="225.2" y="690.2" width="26.1" height="12.1"/>
<rect class="l" x="226.6" y="691.6" width="23.3" height="9.3"/>
<circle class="l" cx="231.7" cy="696.2" r="2.2"/>
<path class="l" d="M228.2 696.2 h7 M231.7 693 v6.4"/>
<circle class="l" cx="242.9" cy="696.2" r="2.2"/>
<path class="l" d="M239.4 696.2 h7 M242.9 693 v6.4"/>
<circle class="w" cx="266.0" cy="691.0" r="1.8"/>
<path class="l" d="M264.6 689.6 l2.8 2.8"/>
<path class="w" d="M232.7 707.9 H270.8 V725.6 H311.7 V746.6 H232.7 Z"/>
<path class="l" d="M234.6 709.8 H268.9 V727.4 M234.6 709.8 V746.6"/>
<path class="m" d="M239 711.6 H266 V746.6 M239 711.6 V746.6 M259 713 V746.6 M263.6 713 V742"/>
<path fill="url(#mach)" stroke="#0a0a0a" stroke-width=".7" d="M243 716 h10 v10 h-10 Z M240 729 h14 v2.4 h-14 Z M241 735 h6 v5 h-6 Z M249 733.6 h8 v3.4 h-8 Z M237 742 h26 v4.6 h-26 Z"/>
<path class="l" d="M243 718 h10 M243 720 h10 M243 722 h10 M243 724 h10 M240 713.6 H258 M245 726 V746 M251 726 V746 M255 712 V746 M237 733 h3 M236 738 h5"/>
<rect class="w" x="259.6" y="714.6" width="3.6" height="26.0"/>
<rect class="w" x="292.2" y="730.2" width="17.7" height="13.0"/>
<rect class="l" x="293.6" y="731.4" width="14.9" height="10.6"/>
<path class="k" d="M296 741.6 C295 735 300 731.6 305 733.4 C301 734.4 299 738 299.6 741.6 Z"/>
<circle class="l" cx="301.6" cy="738.0" r="4.6"/>
<path class="l" d="M306.6 733 L302 741.6 M296.6 741.6 H308"/>
<rect class="w" x="273.6" y="734.0" width="8.4" height="7.4"/>
<path class="k" d="M275 735.4 h5.6 v4.6 h-5.6 Z"/>
<path class="l" d="M270.8 737.6 h2.8 M282 737.6 h10.2 M286 735.6 v4 M289 735.6 v4"/>
<rect class="w" x="282.0" y="720.0" width="7.4" height="6.5"/>
<path class="l" d="M270.8 725.6 L292.2 738 M282 746.6 L292.2 740"/>
<path class="w" d="M311.7 722 L315.6 721.6 L319.4 726 L324.6 732.4 L328.6 738 L331 742.6 L332 746.6 H311.7 Z"/>
<path class="l" d="M316 741 h6 v5.6 M318.6 741 v5.6 M325.6 743.6 h3 M327 742.4 v4.2"/>
</g>
<rect class="w" x="108.6" y="726.3" width="39.6" height="41.2"/>
<rect class="l" x="110.0" y="727.7" width="36.8" height="38.4"/>
<path class="l" d="M122.3 727.7 V766 M134 727.7 V766"/>
<path class="h" d="M106 746.6 h4 m2 0 h8 m2 0 h3 m2 0 h8 m2 0 h3 m2 0 h8 m2 0 h4"/>
<path class="k" d="M116.0 730.4 l1.6 1.2 l-1.6 1.2 l-1.6 -1.2 Z"/>
<path class="k" d="M116.0 760.4 l1.6 1.2 l-1.6 1.2 l-1.6 -1.2 Z"/>
<path class="k" d="M128.0 730.4 l1.6 1.2 l-1.6 1.2 l-1.6 -1.2 Z"/>
<path class="k" d="M128.0 760.4 l1.6 1.2 l-1.6 1.2 l-1.6 -1.2 Z"/>
<path class="k" d="M140.0 730.4 l1.6 1.2 l-1.6 1.2 l-1.6 -1.2 Z"/>
<path class="k" d="M140.0 760.4 l1.6 1.2 l-1.6 1.2 l-1.6 -1.2 Z"/>
<path class="w" d="M126.8 736.6 L200 745.6 V747.6 L126.8 740.6 C124.6 740 124.6 737 126.8 736.6 Z"/>
<path class="m" d="M124.4 737 a2 2 0 1 0 .1 0"/>
<path class="h" d="M2.5 746.6 H100"/>
<path class="m" d="M2.5 745.4 H40 M2.5 748 H40"/>
<path class="l" d="M14 746.6 h6 m3 0 h10"/>
<rect class="w" x="43.8" y="725.0" width="11.9" height="20.5"/>
<rect class="w" x="33.0" y="733.0" width="10.8" height="11.6"/>
<circle class="l" cx="38.4" cy="738.8" r="3.6"/>
<circle class="k" cx="38.4" cy="738.8" r="1.8"/>
<path class="m" d="M33 738.8 h-3 M43.75 738.8 h3"/>
<rect class="w" x="75.9" y="739.3" width="21.4" height="14.3"/>
<rect class="l" x="77.2" y="740.6" width="8.0" height="11.7"/>
<circle class="m" cx="89.3" cy="746.6" r="4.8"/>
<circle class="l" cx="89.3" cy="746.6" r="3.2"/>
<path class="l" d="M85 746.6 h8.6 M79 742 v9 M82.6 742 v9 M77.2 746.6 h8"/>
<rect class="w" x="80.0" y="755.6" width="3.0" height="5.0"/>
<rect class="w" x="2.5" y="733.0" width="3.0" height="27.0"/>
<circle class="w" cx="53.0" cy="773.0" r="13.6"/>
<circle class="m" cx="53.0" cy="773.0" r="10.6"/>
<circle class="l" cx="53.0" cy="773.0" r="6.0"/>
<circle class="l" cx="53.0" cy="773.0" r="3.6"/>
<circle class="k" cx="53.0" cy="773.0" r="1.6"/>
<path class="m" d="M53 759 v28 M42 773 h26 M46 765.4 a3 3 0 1 0 .1 0 M66 773 l3 -2 v4 Z"/>
<path class="l" d="M47 768 L59 778 M59 768 L47 778"/>
<rect class="w" x="42.0" y="761.6" width="4.6" height="3.6"/>
<circle class="w" cx="207.6" cy="746.6" r="3.6"/>
<circle class="m" cx="207.6" cy="746.6" r="2.2"/>
<path class="m" d="M196.6 746.6 H222"/>
<path class="w" d="M216 742.6 L220 746.6 L216 750.6 L212 746.6 Z"/>
<circle class="l" cx="216.0" cy="746.6" r="1.4"/>
<path class="h" d="M222 746.6 H336"/>
<path class="l" d="M276 742 l3 4.6 l3 -4.6 M284 744 h6 v5 h-6 Z"/>
<path class="m" d="M332 746.6 h4"/>
<rect x="97.3" y="782" width="9.7" height="19.6" fill="url(#mach)" stroke="#0a0a0a" stroke-width=".8"/>
<ellipse cx="102.2" cy="791.8" rx="5.6" ry="9.6" fill="none" stroke="#0a0a0a" stroke-width=".9"/>
</g>

<!-- ===== labels ===== -->
<g id="labels">
<path fill="none" stroke="#444" stroke-width=".6" d="M19.3 630.7 h11 M24.8 624.7 v12 M62.3 630.7 h11 M67.8 624.7 v12 M105.3 630.7 h11 M110.8 624.7 v12 M148.3 630.7 h11 M153.8 624.7 v12 M191.3 630.7 h11 M196.8 624.7 v12 M234.3 630.7 h11 M239.8 624.7 v12 M277.3 630.7 h11 M282.8 624.7 v12 M320.3 630.7 h11 M325.8 624.7 v12 "/>
<text class="t" x="26.6" y="642.6" font-size="12.6" textLength="11.4" lengthAdjust="spacingAndGlyphs" stroke="#0a0a0a" stroke-width=".45">13</text>
<text class="t" x="69.6" y="642.6" font-size="12.6" textLength="11.4" lengthAdjust="spacingAndGlyphs" stroke="#0a0a0a" stroke-width=".45">14</text>
<text class="t" x="112.6" y="642.6" font-size="12.6" textLength="11.4" lengthAdjust="spacingAndGlyphs" stroke="#0a0a0a" stroke-width=".45">15</text>
<text class="t" x="155.6" y="642.6" font-size="12.6" textLength="11.4" lengthAdjust="spacingAndGlyphs" stroke="#0a0a0a" stroke-width=".45">16</text>
<text class="t" x="198.6" y="642.6" font-size="12.6" textLength="11.4" lengthAdjust="spacingAndGlyphs" stroke="#0a0a0a" stroke-width=".45">17</text>
<text class="t" x="241.6" y="642.6" font-size="12.6" textLength="11.4" lengthAdjust="spacingAndGlyphs" stroke="#0a0a0a" stroke-width=".45">18</text>
<text class="t" x="284.6" y="642.6" font-size="12.6" textLength="11.4" lengthAdjust="spacingAndGlyphs" stroke="#0a0a0a" stroke-width=".45">19</text>
<text class="t" x="327.6" y="642.6" font-size="12.6" textLength="11.4" lengthAdjust="spacingAndGlyphs" stroke="#0a0a0a" stroke-width=".45">20</text>
<text class="t" x="186" y="857.4" font-size="17.6" textLength="91.6" lengthAdjust="spacingAndGlyphs" stroke="#0a0a0a" stroke-width=".3">Generalplan</text>
<text class="t" x="284.8" y="857.4" font-size="17.6" textLength="50" lengthAdjust="spacingAndGlyphs" stroke="#0a0a0a" stroke-width=".3">M1:175</text>
<path d="M186 861.2 H240.4 M250.2 861.2 H335" stroke="#0a0a0a" stroke-width="1.5" fill="none"/>
<text class="t" x="341.4" y="514.8" font-size="12.3" textLength="20.2" lengthAdjust="spacingAndGlyphs" stroke="#0a0a0a" stroke-width=".5">JüEi</text>
<text class="t" x="367.5" y="514.8" font-size="12.3" textLength="35.5" lengthAdjust="spacingAndGlyphs" stroke="#0a0a0a" stroke-width=".5">2/2012</text>
<circle class="m" cx="359.2" cy="531.2" r="6.8"/>
<text class="t" x="356.2" y="534.2" font-size="8.4" font-weight="bold" textLength="6" lengthAdjust="spacingAndGlyphs">C</text>
</g>

<!-- ===== BODY PLAN (Spantenriss) ===== -->
<g id="bodyplan">
<text class="t" x="383.1" y="689.3" font-size="12.4" textLength="66.4" lengthAdjust="spacingAndGlyphs" stroke="#0a0a0a" stroke-width=".3">Spantenriß</text>
<text class="t" x="453.4" y="689.3" font-size="12.4" textLength="7.8" lengthAdjust="spacingAndGlyphs" stroke="#0a0a0a" stroke-width=".3">M</text>
<text class="t" x="465.9" y="689.3" font-size="12.4" textLength="27.5" lengthAdjust="spacingAndGlyphs" stroke="#0a0a0a" stroke-width=".3">1:175</text>
<path d="M383 691.4 H389.4 M394.4 691.4 H493.6" stroke="#0a0a0a" stroke-width="1.2" fill="none"/>
<path class="l" d="M501.3 654 V866 M503.6 662.7 V866"/>
<path class="h" d="M502.4 654 V866" stroke-dasharray="9 1.5 1.5 1.5"/>
<path class="l" d="M397.7 768.9 H610.4 M416.4 791 H501.3 M418.4 812.9 H501.3 M436 725.5 H501.3 M431.6 727 V831.6 M455.7 719.6 V843.4 M479.3 717.3 V848"/>
<path class="m" d="M417.3 733 C415.6 760 415.6 790 416.4 800 C417.6 812 421 821 427 828.6 C433 835 443 840 454 842.9 C466 845.6 488 850 501.3 853"/>
<path class="m" d="M417.3 733 C423 730 430 727 436 725 C444 722.6 450 720.6 455.7 719.6 C466 718 478 717.3 501.3 717"/>
<path class="l" d="M417.3 744.6 C424 741.6 440 736 450 734.6 C465 733 485 732.6 501.3 732.5 M417.3 753.6 C425 749.6 438 744.6 449 743 C465 741.4 485 741 501.3 741"/>
<path class="l" d="M419 732.4 L418.4 770 M421 731.6 L421.4 772 M423.4 730.6 L425 762 M426 729.6 L428 758 M429 728.4 L431.6 752"/>
<path class="l" d="M440.5 746.4 C446 752 456 758 466.4 761.6 C476 765 490 767.6 499.5 768.2 M499.5 768.2 V851"/>
<path class="l" d="M431.0 748.0 C436.0 762.0 450.0 772.0 462.0 780.0 C480.0 792.0 494.0 815.0 499.5 851.0"/>
<path class="l" d="M426.6 751.0 C428.0 770.0 440.0 784.0 457.5 797.3 C476.0 811.0 492.0 832.0 499.5 851.6"/>
<path class="l" d="M425.1 748.1 C426.0 770.0 436.1 785.8 451.3 800.0 C467.7 815.0 488.5 834.2 499.7 851.8"/>
<path class="l" d="M423.6 745.2 C424.0 770.0 432.3 787.5 445.1 802.6 C459.4 819.0 485.0 836.5 500.0 852.0"/>
<path class="l" d="M422.2 742.5 C422.2 770.0 428.6 789.2 439.2 805.1 C451.6 822.8 481.7 838.6 500.2 852.3"/>
<path class="l" d="M420.9 740.0 C420.4 770.0 425.2 790.7 433.8 807.5 C444.3 826.2 478.6 840.5 500.4 852.5"/>
<path class="l" d="M419.8 737.9 C418.9 770.0 422.3 792.0 429.1 809.5 C438.0 829.2 475.9 842.2 500.6 852.6"/>
<path class="l" d="M418.9 736.1 C417.7 770.0 419.9 793.1 425.2 811.2 C432.8 831.8 473.7 843.6 500.7 852.8"/>
<path class="l" d="M418.0 734.4 C416.6 770.0 417.7 794.1 421.7 812.7 C428.2 834.0 471.8 844.9 500.9 852.9"/>
<defs><clipPath id="propclip"><path d="M417.3 733 C415.6 760 415.6 790 416.4 800 C417.6 812 421 821 427 828.6 C433 835 443 840 454 842.9 C466 845.6 488 850 501.3 853 V700 Z"/></clipPath></defs>
<circle class="h" cx="467.3" cy="821.4" r="24.0" stroke-dasharray="6 1.5 1.5 1.5" clip-path="url(#propclip)"/>
<circle class="l" cx="467.3" cy="821.4" r="4.6"/>
<path class="h" d="M443 821.4 H494 M467.3 795.6 V846.6" stroke-dasharray="6 1.5 1.5 1.5"/>
<path class="m" d="M448 806.4 L446 811"/>
<path class="m" d="M503.6 662.7 L522.7 665.7 L543.5 669.6 C546 672 548 676 550.4 678.9 C554 683 558 686 562 688 C566 690.6 570 692.6 574.7 695 C579 697.6 583 700 585 703 C587.4 706 588.2 710 588.5 713.5 C589 718 589.2 722 589.2 726.2 V788.5 C589.2 796 588.6 803 587.4 809.3 C586.4 814 585 818 582.7 820.9 C580 825.6 577 829.6 573.5 832.4 C570 835.6 566 838 562 839.3 C556 841.6 548 843 541.2 844 C533 845.2 525 846.4 518 847.4 C512 848.4 507 849.6 503.6 850.9"/>
<path class="h" d="M503.6 677.7 C520 678.4 533 679.4 543.5 681 C556 684 566 689.6 574 696" stroke-dasharray="7 1.5 1.5 1.5"/>
<path class="l" d="M503.6 703 H585 M503.6 747 H589.2 M503.6 791.3 H589.2 M503.6 813.5 H587 M526.2 666.4 V846.4 M550.4 678.9 V842.6 M574.7 695 V831.4"/>
<path class="m" d="M501.3 725.7 H589.2"/>
<path class="l" d="M522.7 665.7 C517.0 690.0 511.0 720.0 508.6 733.0 C505.6 760.0 504.0 800.0 503.6 845.0"/>
<path class="l" d="M543.5 669.6 C537.0 695.0 527.0 722.0 518.6 745.0 C512.0 765.0 506.0 810.0 503.6 848.0"/>
<path class="l" d="M562.0 688.0 C556.0 712.0 547.0 740.0 537.0 762.0 C526.0 787.0 511.0 825.0 503.6 849.6"/>
<path class="l" d="M578.0 697.6 C573.0 722.0 564.0 748.0 551.4 777.0 C540.0 802.0 520.0 836.0 503.6 850.4"/>
<path class="l" d="M580.2 703.3 C576.2 731.6 569.1 758.4 558.0 785.1 C547.6 808.8 524.0 837.6 503.6 850.5"/>
<path class="l" d="M582.3 708.5 C579.2 740.2 573.7 767.8 564.0 792.4 C554.4 814.9 527.6 839.0 503.6 850.6"/>
<path class="l" d="M584.0 713.0 C581.7 747.9 577.7 776.1 569.3 798.9 C560.5 820.4 530.8 840.3 503.6 850.7"/>
<path class="l" d="M585.6 717.0 C584.0 754.6 581.3 783.4 574.0 804.6 C565.8 825.1 533.6 841.4 503.6 850.7"/>
<path class="l" d="M587.0 720.5 C586.0 760.4 584.3 789.6 578.0 809.5 C570.4 829.2 536.0 842.4 503.6 850.8"/>
<path class="l" d="M588.1 723.3 C587.6 765.2 586.9 794.8 581.3 813.5 C574.2 832.6 538.0 843.2 503.6 850.9"/>
<path class="l" d="M555 733.6 C562 735 568 736.6 573.5 738.9 C580 742 585 745.6 588.5 749.3"/>
<path class="l" d="M496 826 C497.4 836 498.6 846 499.5 851 M499.5 851 L501.3 853"/>
<text class="t" x="402.0" y="765.1" font-size="9.8" text-anchor="middle" textLength="4.9" lengthAdjust="spacingAndGlyphs" stroke="#0a0a0a" stroke-width=".25">3</text>
<path class="l" d="M406.6 761.6 H422.7"/>
<text class="t" x="401.3" y="780.8" font-size="9.8" text-anchor="middle" textLength="4.9" lengthAdjust="spacingAndGlyphs" stroke="#0a0a0a" stroke-width=".25">4</text>
<path class="l" d="M406.6 777.3 H423.6"/>
<text class="t" x="401.8" y="799.0" font-size="9.8" text-anchor="middle" textLength="4.9" lengthAdjust="spacingAndGlyphs" stroke="#0a0a0a" stroke-width=".25">5</text>
<path class="l" d="M406.6 795.5 H425.4"/>
<text class="t" x="403.0" y="814.5" font-size="9.8" text-anchor="middle" textLength="4.9" lengthAdjust="spacingAndGlyphs" stroke="#0a0a0a" stroke-width=".25">6</text>
<path class="l" d="M407.5 809.8 L418.2 807.1"/>
<text class="t" x="407.0" y="830.3" font-size="9.8" text-anchor="middle" textLength="4.9" lengthAdjust="spacingAndGlyphs" stroke="#0a0a0a" stroke-width=".25">7</text>
<path class="l" d="M411 823.2 L420 818.8"/>
<text class="t" x="412.0" y="840.1" font-size="9.8" text-anchor="middle" textLength="4.9" lengthAdjust="spacingAndGlyphs" stroke="#0a0a0a" stroke-width=".25">8</text>
<path class="l" d="M416.4 832.1 L428 825"/>
<text class="t" x="423.6" y="848.5" font-size="9.8" text-anchor="middle" textLength="4.9" lengthAdjust="spacingAndGlyphs" stroke="#0a0a0a" stroke-width=".25">9</text>
<path class="l" d="M427 841 L433.4 834.8"/>
<text class="t" x="440.5" y="857.1" font-size="9.8" text-anchor="middle" textLength="9.0" lengthAdjust="spacingAndGlyphs" stroke="#0a0a0a" stroke-width=".25">10</text>
<path class="l" d="M442.3 849 L445 841"/>
<text class="t" x="562.0" y="856.7" font-size="9.8" text-anchor="middle" textLength="9.0" lengthAdjust="spacingAndGlyphs" stroke="#0a0a0a" stroke-width=".25">10</text>
<path class="l" d="M560.8 840.5 L562 848.6"/>
<text class="t" x="582.7" y="847.5" font-size="9.8" text-anchor="middle" textLength="9.0" lengthAdjust="spacingAndGlyphs" stroke="#0a0a0a" stroke-width=".25">12</text>
<path class="l" d="M571.2 830 L579.3 839.3"/>
<text class="t" x="600.0" y="846.3" font-size="9.8" text-anchor="middle" textLength="8.0" lengthAdjust="spacingAndGlyphs" stroke="#0a0a0a" stroke-width=".25">11</text>
<path class="l" d="M580.4 825.5 L596.6 838.2"/>
<text class="t" x="596.6" y="832.5" font-size="9.8" text-anchor="middle" textLength="9.0" lengthAdjust="spacingAndGlyphs" stroke="#0a0a0a" stroke-width=".25">13</text>
<path class="l" d="M572.4 818.6 L592 826.6"/>
<text class="t" x="603.5" y="810.0" font-size="9.8" text-anchor="middle" textLength="9.0" lengthAdjust="spacingAndGlyphs" stroke="#0a0a0a" stroke-width=".25">14</text>
<path class="l" d="M572.4 806.3 H597.7"/>
<text class="t" x="603.5" y="787.9" font-size="9.8" text-anchor="middle" textLength="9.0" lengthAdjust="spacingAndGlyphs" stroke="#0a0a0a" stroke-width=".25">15</text>
<path class="l" d="M573.5 784 H597.7"/>
<text class="t" x="603.5" y="762.0" font-size="9.8" text-anchor="middle" textLength="9.0" lengthAdjust="spacingAndGlyphs" stroke="#0a0a0a" stroke-width=".25">16</text>
<path class="l" d="M571.2 757.8 H597.7"/>
<text class="t" x="603.5" y="736.6" font-size="9.8" text-anchor="middle" textLength="9.0" lengthAdjust="spacingAndGlyphs" stroke="#0a0a0a" stroke-width=".25">17</text>
<path class="l" d="M570 732.4 H597.7"/>
<text class="t" x="517.4" y="717.5" font-size="9.8" text-anchor="middle" textLength="9.6" lengthAdjust="spacingAndGlyphs" stroke="#0a0a0a" stroke-width=".25">20</text>
<path class="l" d="M511.6 719.4 h11.6"/>
<text class="t" x="538.9" y="717.5" font-size="9.8" text-anchor="middle" textLength="9.0" lengthAdjust="spacingAndGlyphs" stroke="#0a0a0a" stroke-width=".25">19</text>
<path class="l" d="M533.4 719.4 h11.0"/>
<text class="t" x="558.5" y="717.5" font-size="9.8" text-anchor="middle" textLength="9.0" lengthAdjust="spacingAndGlyphs" stroke="#0a0a0a" stroke-width=".25">18</text>
<path class="l" d="M553.0 719.4 h11.0"/>
<text class="t" x="442.3" y="759.1" font-size="9.8" text-anchor="middle" textLength="4.9" lengthAdjust="spacingAndGlyphs" stroke="#0a0a0a" stroke-width=".25">1</text>
<path class="l" d="M438.9 761.0 h6.9"/>
<text class="t" x="472.0" y="759.1" font-size="9.8" text-anchor="middle" textLength="4.9" lengthAdjust="spacingAndGlyphs" stroke="#0a0a0a" stroke-width=".25">0</text>
<path class="l" d="M468.6 761.0 h6.9"/>
<text class="t" x="445.9" y="777.1" font-size="9.8" text-anchor="middle" textLength="4.9" lengthAdjust="spacingAndGlyphs" stroke="#0a0a0a" stroke-width=".25">2</text>
<path class="l" d="M442.4 779.0 h6.9"/>
</g>

<!-- page edge -->
<rect x="0" y="0" width="2" height="852" fill="#fff"/>
<line x1="2.5" y1="0" x2="2.5" y2="953" stroke="#c4c4c4" stroke-width="1"/>

</svg>
</body></html>
